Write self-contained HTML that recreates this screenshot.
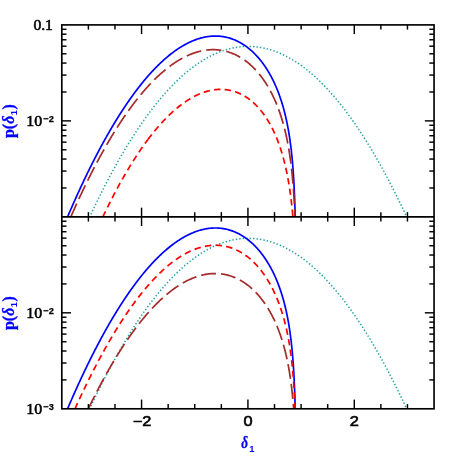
<!DOCTYPE html>
<html><head><meta charset="utf-8"><title>p(delta_l)</title>
<style>html,body{margin:0;padding:0;background:#fff;}body{width:458px;height:458px;overflow:hidden;font-family:"Liberation Sans",sans-serif;}svg{display:block;will-change:transform;-webkit-font-smoothing:antialiased}text{-webkit-font-smoothing:antialiased}</style>
</head><body>
<svg width="458" height="458" viewBox="0 0 458 458">
<rect width="458" height="458" fill="#fff"/>
<clipPath id="c0"><rect x="61.80" y="24.90" width="372.25" height="191.95"/></clipPath>
<g clip-path="url(#c0)" fill="none" stroke-linejoin="round">
<path d="M89.73,216.85 L90.26,215.71 L90.79,214.57 L91.32,213.44 L91.85,212.31 L92.38,211.18 L92.91,210.06 L93.45,208.94 L93.98,207.82 L94.51,206.71 L95.04,205.61 L95.57,204.50 L96.10,203.40 L96.64,202.31 L97.17,201.22 L97.70,200.13 L98.23,199.04 L98.76,197.96 L99.29,196.89 L99.82,195.81 L100.36,194.74 L100.89,193.68 L101.42,192.62 L101.95,191.56 L102.48,190.51 L103.01,189.46 L103.55,188.41 L104.08,187.37 L104.61,186.33 L105.14,185.30 L105.67,184.27 L106.20,183.24 L106.73,182.22 L107.27,181.20 L107.80,180.18 L108.33,179.17 L108.86,178.17 L109.39,177.16 L109.92,176.16 L110.46,175.17 L110.99,174.17 L111.52,173.19 L112.05,172.20 L112.58,171.22 L113.11,170.24 L113.64,169.27 L114.18,168.30 L114.71,167.34 L115.24,166.38 L115.77,165.42 L116.30,164.46 L116.83,163.51 L117.37,162.57 L117.90,161.63 L118.43,160.69 L118.96,159.75 L119.49,158.82 L120.02,157.90 L120.56,156.97 L121.09,156.05 L121.62,155.14 L122.15,154.23 L122.68,153.32 L123.21,152.42 L123.74,151.52 L124.28,150.62 L124.81,149.73 L125.34,148.84 L125.87,147.95 L126.40,147.07 L126.93,146.20 L127.47,145.32 L128.00,144.45 L128.53,143.59 L129.06,142.73 L129.59,141.87 L130.12,141.01 L130.65,140.16 L131.19,139.32 L131.72,138.48 L132.25,137.64 L132.78,136.80 L133.31,135.97 L133.84,135.14 L134.38,134.32 L134.91,133.50 L135.44,132.69 L135.97,131.87 L136.50,131.07 L137.03,130.26 L137.56,129.46 L138.10,128.67 L138.63,127.87 L139.16,127.08 L139.69,126.30 L140.22,125.52 L140.75,124.74 L141.29,123.97 L141.82,123.20 L142.35,122.43 L142.88,121.67 L143.41,120.91 L143.94,120.16 L144.47,119.41 L145.01,118.66 L145.54,117.92 L146.07,117.18 L146.60,116.44 L147.13,115.71 L147.66,114.99 L148.20,114.26 L148.73,113.54 L149.26,112.83 L149.79,112.12 L150.32,111.41 L150.85,110.70 L151.39,110.00 L151.92,109.31 L152.45,108.61 L152.98,107.92 L153.51,107.24 L154.04,106.56 L154.57,105.88 L155.11,105.21 L155.64,104.54 L156.17,103.87 L156.70,103.21 L157.23,102.55 L157.76,101.90 L158.30,101.24 L158.83,100.60 L159.36,99.96 L159.89,99.32 L160.42,98.68 L160.95,98.05 L161.48,97.42 L162.02,96.80 L162.55,96.18 L163.08,95.56 L163.61,94.95 L164.14,94.34 L164.67,93.74 L165.21,93.14 L165.74,92.54 L166.27,91.95 L166.80,91.36 L167.33,90.77 L167.86,90.19 L168.39,89.61 L168.93,89.04 L169.46,88.47 L169.99,87.90 L170.52,87.34 L171.05,86.78 L171.58,86.23 L172.12,85.68 L172.65,85.13 L173.18,84.58 L173.71,84.05 L174.24,83.51 L174.77,82.98 L175.30,82.45 L175.84,81.93 L176.37,81.41 L176.90,80.89 L177.43,80.38 L177.96,79.87 L178.49,79.36 L179.03,78.86 L179.56,78.37 L180.09,77.87 L180.62,77.38 L181.15,76.90 L181.68,76.42 L182.22,75.94 L182.75,75.46 L183.28,74.99 L183.81,74.53 L184.34,74.06 L184.87,73.60 L185.40,73.15 L185.94,72.70 L186.47,72.25 L187.00,71.81 L187.53,71.37 L188.06,70.93 L188.59,70.50 L189.13,70.07 L189.66,69.65 L190.19,69.23 L190.72,68.81 L191.25,68.40 L191.78,67.99 L192.31,67.58 L192.85,67.18 L193.38,66.79 L193.91,66.39 L194.44,66.00 L194.97,65.62 L195.50,65.23 L196.04,64.86 L196.57,64.48 L197.10,64.11 L197.63,63.74 L198.16,63.38 L198.69,63.02 L199.22,62.67 L199.76,62.32 L200.29,61.97 L200.82,61.62 L201.35,61.28 L201.88,60.95 L202.41,60.62 L202.95,60.29 L203.48,59.96 L204.01,59.64 L204.54,59.33 L205.07,59.01 L205.60,58.70 L206.14,58.40 L206.67,58.10 L207.20,57.80 L207.73,57.51 L208.26,57.22 L208.79,56.93 L209.32,56.65 L209.86,56.37 L210.39,56.09 L210.92,55.82 L211.45,55.56 L211.98,55.29 L212.51,55.03 L213.05,54.78 L213.58,54.53 L214.11,54.28 L214.64,54.04 L215.17,53.79 L215.70,53.56 L216.23,53.33 L216.77,53.10 L217.30,52.87 L217.83,52.65 L218.36,52.43 L218.89,52.22 L219.42,52.01 L219.96,51.81 L220.49,51.60 L221.02,51.41 L221.55,51.21 L222.08,51.02 L222.61,50.84 L223.14,50.65 L223.68,50.47 L224.21,50.30 L224.74,50.13 L225.27,49.96 L225.80,49.80 L226.33,49.64 L226.87,49.48 L227.40,49.33 L227.93,49.18 L228.46,49.04 L228.99,48.90 L229.52,48.76 L230.05,48.63 L230.59,48.50 L231.12,48.38 L231.65,48.25 L232.18,48.14 L232.71,48.02 L233.24,47.91 L233.78,47.81 L234.31,47.71 L234.84,47.61 L235.37,47.51 L235.90,47.42 L236.43,47.34 L236.97,47.25 L237.50,47.17 L238.03,47.10 L238.56,47.03 L239.09,46.96 L239.62,46.90 L240.15,46.84 L240.69,46.78 L241.22,46.73 L241.75,46.68 L242.28,46.64 L242.81,46.60 L243.34,46.56 L243.88,46.53 L244.41,46.50 L244.94,46.47 L245.47,46.45 L246.00,46.43 L246.53,46.42 L247.06,46.41 L247.60,46.40 L248.13,46.40 L248.66,46.40 L249.19,46.41 L249.72,46.42 L250.25,46.43 L250.79,46.45 L251.32,46.47 L251.85,46.49 L252.38,46.52 L252.91,46.55 L253.44,46.59 L253.97,46.63 L254.51,46.67 L255.04,46.72 L255.57,46.77 L256.10,46.83 L256.63,46.89 L257.16,46.95 L257.70,47.02 L258.23,47.09 L258.76,47.16 L259.29,47.24 L259.82,47.32 L260.35,47.41 L260.88,47.50 L261.42,47.59 L261.95,47.69 L262.48,47.79 L263.01,47.89 L263.54,48.00 L264.07,48.12 L264.61,48.23 L265.14,48.35 L265.67,48.48 L266.20,48.61 L266.73,48.74 L267.26,48.87 L267.80,49.01 L268.33,49.16 L268.86,49.30 L269.39,49.46 L269.92,49.61 L270.45,49.77 L270.98,49.93 L271.52,50.10 L272.05,50.27 L272.58,50.44 L273.11,50.62 L273.64,50.80 L274.17,50.99 L274.71,51.18 L275.24,51.37 L275.77,51.57 L276.30,51.77 L276.83,51.98 L277.36,52.18 L277.89,52.40 L278.43,52.61 L278.96,52.83 L279.49,53.06 L280.02,53.29 L280.55,53.52 L281.08,53.75 L281.62,53.99 L282.15,54.24 L282.68,54.48 L283.21,54.73 L283.74,54.99 L284.27,55.25 L284.80,55.51 L285.34,55.78 L285.87,56.05 L286.40,56.32 L286.93,56.60 L287.46,56.88 L287.99,57.16 L288.53,57.45 L289.06,57.75 L289.59,58.04 L290.12,58.34 L290.65,58.65 L291.18,58.96 L291.71,59.27 L292.25,59.59 L292.78,59.91 L293.31,60.23 L293.84,60.56 L294.37,60.89 L294.90,61.22 L295.44,61.56 L295.97,61.91 L296.50,62.25 L297.03,62.60 L297.56,62.96 L298.09,63.32 L298.63,63.68 L299.16,64.05 L299.69,64.42 L300.22,64.79 L300.75,65.17 L301.28,65.55 L301.81,65.93 L302.35,66.32 L302.88,66.72 L303.41,67.11 L303.94,67.51 L304.47,67.92 L305.00,68.33 L305.54,68.74 L306.07,69.15 L306.60,69.57 L307.13,70.00 L307.66,70.42 L308.19,70.86 L308.72,71.29 L309.26,71.73 L309.79,72.17 L310.32,72.62 L310.85,73.07 L311.38,73.52 L311.91,73.98 L312.45,74.44 L312.98,74.91 L313.51,75.38 L314.04,75.85 L314.57,76.33 L315.10,76.81 L315.63,77.30 L316.17,77.78 L316.70,78.28 L317.23,78.77 L317.76,79.27 L318.29,79.78 L318.82,80.29 L319.36,80.80 L319.89,81.31 L320.42,81.83 L320.95,82.36 L321.48,82.88 L322.01,83.42 L322.55,83.95 L323.08,84.49 L323.61,85.03 L324.14,85.58 L324.67,86.13 L325.20,86.68 L325.73,87.24 L326.27,87.80 L326.80,88.37 L327.33,88.94 L327.86,89.51 L328.39,90.09 L328.92,90.67 L329.46,91.25 L329.99,91.84 L330.52,92.43 L331.05,93.03 L331.58,93.63 L332.11,94.23 L332.64,94.84 L333.18,95.45 L333.71,96.07 L334.24,96.69 L334.77,97.31 L335.30,97.94 L335.83,98.57 L336.37,99.20 L336.90,99.84 L337.43,100.48 L337.96,101.13 L338.49,101.78 L339.02,102.43 L339.55,103.09 L340.09,103.75 L340.62,104.42 L341.15,105.09 L341.68,105.76 L342.21,106.44 L342.74,107.12 L343.28,107.80 L343.81,108.49 L344.34,109.18 L344.87,109.88 L345.40,110.58 L345.93,111.28 L346.46,111.99 L347.00,112.70 L347.53,113.42 L348.06,114.13 L348.59,114.86 L349.12,115.58 L349.65,116.31 L350.19,117.05 L350.72,117.79 L351.25,118.53 L351.78,119.27 L352.31,120.02 L352.84,120.78 L353.38,121.54 L353.91,122.30 L354.44,123.06 L354.97,123.83 L355.50,124.60 L356.03,125.38 L356.56,126.16 L357.10,126.94 L357.63,127.73 L358.16,128.52 L358.69,129.32 L359.22,130.12 L359.75,130.92 L360.29,131.73 L360.82,132.54 L361.35,133.36 L361.88,134.18 L362.41,135.00 L362.94,135.82 L363.47,136.65 L364.01,137.49 L364.54,138.33 L365.07,139.17 L365.60,140.01 L366.13,140.86 L366.66,141.72 L367.20,142.57 L367.73,143.43 L368.26,144.30 L368.79,145.17 L369.32,146.04 L369.85,146.92 L370.38,147.80 L370.92,148.68 L371.45,149.57 L371.98,150.46 L372.51,151.36 L373.04,152.26 L373.57,153.16 L374.11,154.07 L374.64,154.98 L375.17,155.89 L375.70,156.81 L376.23,157.73 L376.76,158.66 L377.29,159.59 L377.83,160.52 L378.36,161.46 L378.89,162.40 L379.42,163.35 L379.95,164.30 L380.48,165.25 L381.02,166.21 L381.55,167.17 L382.08,168.13 L382.61,169.10 L383.14,170.07 L383.67,171.05 L384.21,172.03 L384.74,173.01 L385.27,174.00 L385.80,174.99 L386.33,175.98 L386.86,176.98 L387.39,177.99 L387.93,178.99 L388.46,180.00 L388.99,181.02 L389.52,182.04 L390.05,183.06 L390.58,184.08 L391.12,185.11 L391.65,186.15 L392.18,187.19 L392.71,188.23 L393.24,189.27 L393.77,190.32 L394.30,191.37 L394.84,192.43 L395.37,193.49 L395.90,194.56 L396.43,195.62 L396.96,196.70 L397.49,197.77 L398.03,198.85 L398.56,199.93 L399.09,201.02 L399.62,202.11 L400.15,203.21 L400.68,204.31 L401.21,205.41 L401.75,206.52 L402.28,207.63 L402.81,208.74 L403.34,209.86 L403.87,210.98 L404.40,212.11 L404.94,213.23 L405.47,214.37 L406.00,215.51 L406.53,216.65 L407.06,217.79 L407.59,218.94 L408.12,220.09" stroke="#20a0a0" stroke-width="1.5" stroke-dasharray="1.4 2.06" stroke-dashoffset="0.7" stroke-linecap="butt"/>
<path d="M67.57,216.85 L67.89,216.12 L68.20,215.38 L68.51,214.65 L68.83,213.91 L69.15,213.18 L69.46,212.45 L69.78,211.71 L70.10,210.98 L70.41,210.25 L70.73,209.51 L71.05,208.78 L71.37,208.05 L71.69,207.32 L72.01,206.58 L72.33,205.85 L72.65,205.12 L72.98,204.39 L73.30,203.66 L73.62,202.93 L73.95,202.20 L74.27,201.47 L74.60,200.74 L74.92,200.01 L75.25,199.28 L75.57,198.55 L75.90,197.82 L76.23,197.09 L76.56,196.37 L76.89,195.64 L77.22,194.91 L77.55,194.18 L77.88,193.46 L78.21,192.73 L78.54,192.00 L78.88,191.28 L79.21,190.55 L79.54,189.83 L79.88,189.10 L80.21,188.38 L80.55,187.65 L80.89,186.93 L81.22,186.20 L81.56,185.48 L81.90,184.75 L82.24,184.03 L82.58,183.31 L82.92,182.59 L83.26,181.86 L83.60,181.14 L83.94,180.42 L84.29,179.70 L84.63,178.98 L84.97,178.26 L85.32,177.53 L85.67,176.81 L86.01,176.09 L86.36,175.38 L86.71,174.66 L87.06,173.94 L87.40,173.22 L87.75,172.50 L88.11,171.78 L88.46,171.07 L88.81,170.35 L89.16,169.63 L89.52,168.92 L89.87,168.20 L90.22,167.48 L90.58,166.77 L90.94,166.05 L91.29,165.34 L91.65,164.62 L92.01,163.91 L92.37,163.20 L92.73,162.48 L93.09,161.77 L93.45,161.06 L93.82,160.35 L94.18,159.64 L94.54,158.93 L94.91,158.22 L95.27,157.50 L95.64,156.80 L96.01,156.09 L96.38,155.38 L96.75,154.67 L97.12,153.96 L97.49,153.25 L97.86,152.55 L98.23,151.84 L98.60,151.13 L98.98,150.43 L99.35,149.72 L99.73,149.02 L100.11,148.31 L100.48,147.61 L100.86,146.90 L101.24,146.20 L101.62,145.50 L102.00,144.80 L102.38,144.09 L102.77,143.39 L103.15,142.69 L103.54,141.99 L103.92,141.29 L104.31,140.59 L104.70,139.90 L105.08,139.20 L105.47,138.50 L105.86,137.80 L106.26,137.11 L106.65,136.41 L107.04,135.72 L107.44,135.02 L107.83,134.33 L108.23,133.63 L108.63,132.94 L109.02,132.25 L109.42,131.56 L109.82,130.87 L110.23,130.17 L110.63,129.48 L111.03,128.80 L111.44,128.11 L111.84,127.42 L112.25,126.73 L112.66,126.04 L113.07,125.36 L113.48,124.67 L113.89,123.99 L114.30,123.30 L114.71,122.62 L115.13,121.94 L115.54,121.25 L115.96,120.57 L116.38,119.89 L116.80,119.21 L117.22,118.53 L117.64,117.85 L118.06,117.18 L118.49,116.50 L118.91,115.82 L119.34,115.15 L119.77,114.47 L120.20,113.80 L120.63,113.13 L121.06,112.45 L121.49,111.78 L121.92,111.11 L122.36,110.44 L122.80,109.77 L123.23,109.10 L123.67,108.44 L124.11,107.77 L124.56,107.11 L125.00,106.44 L125.44,105.78 L125.89,105.11 L126.34,104.45 L126.79,103.79 L127.24,103.13 L127.69,102.47 L128.14,101.82 L128.60,101.16 L129.05,100.50 L129.51,99.85 L129.97,99.19 L130.43,98.54 L130.89,97.89 L131.36,97.24 L131.82,96.59 L132.29,95.94 L132.76,95.29 L133.23,94.65 L133.70,94.00 L134.17,93.36 L134.65,92.72 L135.12,92.08 L135.60,91.44 L136.08,90.80 L136.56,90.16 L137.04,89.52 L137.53,88.89 L138.02,88.26 L138.50,87.62 L138.99,86.99 L139.49,86.36 L139.98,85.74 L140.48,85.11 L140.97,84.48 L141.47,83.86 L141.97,83.24 L142.48,82.62 L142.98,82.00 L143.49,81.38 L144.00,80.77 L144.51,80.15 L145.02,79.54 L145.54,78.93 L146.05,78.32 L146.57,77.71 L147.09,77.11 L147.62,76.50 L148.14,75.90 L148.67,75.30 L149.20,74.70 L149.73,74.11 L150.27,73.51 L150.80,72.92 L151.34,72.33 L151.88,71.74 L152.42,71.16 L152.97,70.57 L153.52,69.99 L154.07,69.41 L154.62,68.83 L155.17,68.26 L155.73,67.69 L156.29,67.12 L156.85,66.55 L157.42,65.98 L157.98,65.42 L158.55,64.86 L159.12,64.30 L159.70,63.75 L160.28,63.19 L160.86,62.65 L161.44,62.10 L162.02,61.55 L162.61,61.01 L163.20,60.48 L163.80,59.94 L164.39,59.41 L164.99,58.88 L165.59,58.36 L166.20,57.84 L166.81,57.32 L167.42,56.80 L168.03,56.29 L168.65,55.78 L169.27,55.28 L169.89,54.78 L170.52,54.28 L171.15,53.79 L171.78,53.30 L172.41,52.82 L173.05,52.34 L173.69,51.86 L174.34,51.39 L174.99,50.92 L175.64,50.46 L176.29,50.00 L176.95,49.55 L177.61,49.10 L178.28,48.66 L178.95,48.22 L179.62,47.79 L180.29,47.36 L180.97,46.94 L181.65,46.52 L182.34,46.11 L183.03,45.71 L183.72,45.31 L184.41,44.92 L185.11,44.53 L185.82,44.15 L186.52,43.77 L187.23,43.41 L187.94,43.05 L188.66,42.69 L189.38,42.35 L190.10,42.01 L190.83,41.68 L191.56,41.35 L192.30,41.04 L193.03,40.73 L193.77,40.43 L194.52,40.14 L195.26,39.86 L196.01,39.58 L196.77,39.32 L197.52,39.06 L198.28,38.81 L199.05,38.57 L199.81,38.35 L200.58,38.13 L201.35,37.92 L202.12,37.72 L202.90,37.53 L203.68,37.35 L204.46,37.19 L205.24,37.03 L206.03,36.88 L206.82,36.75 L207.61,36.63 L208.40,36.51 L209.19,36.41 L209.98,36.32 L210.78,36.25 L211.57,36.18 L212.37,36.13 L213.17,36.09 L213.97,36.06 L214.77,36.05 L215.57,36.04 L216.36,36.05 L217.16,36.07 L217.96,36.11 L218.76,36.16 L219.56,36.22 L220.35,36.29 L221.14,36.38 L221.94,36.48 L222.73,36.59 L223.52,36.71 L224.30,36.85 L225.09,37.00 L225.87,37.17 L226.65,37.34 L227.43,37.53 L228.20,37.73 L228.97,37.94 L229.74,38.17 L230.50,38.41 L231.26,38.66 L232.01,38.92 L232.76,39.19 L233.51,39.48 L234.25,39.77 L234.99,40.08 L235.72,40.40 L236.45,40.73 L237.17,41.07 L237.89,41.42 L238.60,41.78 L239.31,42.15 L240.01,42.54 L240.71,42.93 L241.40,43.33 L242.08,43.74 L242.76,44.16 L243.44,44.59 L244.10,45.03 L244.77,45.47 L245.42,45.93 L246.07,46.39 L246.72,46.86 L247.36,47.34 L247.99,47.83 L248.62,48.33 L249.24,48.83 L249.85,49.34 L250.46,49.86 L251.06,50.38 L251.66,50.91 L252.25,51.45 L252.84,51.99 L253.42,52.54 L253.99,53.10 L254.56,53.66 L255.12,54.23 L255.67,54.80 L256.22,55.38 L256.77,55.97 L257.31,56.56 L257.84,57.15 L258.37,57.75 L258.89,58.36 L259.40,58.97 L259.91,59.58 L260.42,60.20 L260.92,60.83 L261.41,61.46 L261.90,62.09 L262.38,62.73 L262.86,63.37 L263.33,64.01 L263.79,64.66 L264.26,65.31 L264.71,65.97 L265.16,66.63 L265.61,67.29 L266.05,67.96 L266.48,68.63 L266.91,69.30 L267.34,69.98 L267.76,70.66 L268.17,71.34 L268.58,72.02 L268.99,72.71 L269.39,73.40 L269.78,74.10 L270.18,74.80 L270.56,75.49 L270.94,76.20 L271.32,76.90 L271.69,77.61 L272.06,78.32 L272.42,79.03 L272.78,79.74 L273.14,80.46 L273.49,81.18 L273.83,81.90 L274.17,82.62 L274.51,83.34 L274.84,84.07 L275.17,84.80 L275.50,85.53 L275.82,86.26 L276.13,86.99 L276.45,87.73 L276.75,88.46 L277.06,89.20 L277.36,89.94 L277.65,90.69 L277.95,91.43 L278.23,92.17 L278.52,92.92 L278.80,93.67 L279.08,94.42 L279.35,95.17 L279.62,95.92 L279.89,96.67 L280.15,97.43 L280.41,98.18 L280.66,98.94 L280.91,99.70 L281.16,100.46 L281.41,101.22 L281.65,101.98 L281.89,102.74 L282.12,103.51 L282.35,104.27 L282.58,105.04 L282.81,105.80 L283.03,106.57 L283.25,107.34 L283.46,108.11 L283.67,108.88 L283.88,109.65 L284.09,110.42 L284.29,111.19 L284.49,111.97 L284.69,112.74 L284.88,113.52 L285.08,114.29 L285.26,115.07 L285.45,115.85 L285.63,116.62 L285.81,117.40 L285.99,118.18 L286.17,118.96 L286.34,119.74 L286.51,120.52 L286.68,121.30 L286.84,122.08 L287.00,122.87 L287.16,123.65 L287.32,124.43 L287.47,125.22 L287.62,126.00 L287.77,126.78 L287.92,127.57 L288.07,128.36 L288.21,129.14 L288.35,129.93 L288.49,130.71 L288.62,131.50 L288.76,132.29 L288.89,133.08 L289.02,133.87 L289.15,134.65 L289.27,135.44 L289.39,136.23 L289.52,137.02 L289.64,137.81 L289.75,138.60 L289.87,139.39 L289.98,140.18 L290.09,140.97 L290.20,141.77 L290.31,142.56 L290.42,143.35 L290.52,144.14 L290.62,144.93 L290.72,145.73 L290.82,146.52 L290.92,147.31 L291.02,148.10 L291.11,148.90 L291.20,149.69 L291.30,150.48 L291.38,151.28 L291.47,152.07 L291.56,152.87 L291.64,153.66 L291.73,154.46 L291.81,155.25 L291.89,156.04 L291.97,156.84 L292.05,157.63 L292.12,158.43 L292.20,159.23 L292.27,160.02 L292.35,160.82 L292.42,161.61 L292.49,162.41 L292.56,163.20 L292.62,164.00 L292.69,164.80 L292.75,165.59 L292.82,166.39 L292.88,167.18 L292.94,167.98 L293.00,168.78 L293.06,169.57 L293.12,170.37 L293.18,171.17 L293.24,171.96 L293.29,172.76 L293.35,173.56 L293.40,174.36 L293.45,175.15 L293.50,175.95 L293.55,176.75 L293.60,177.54 L293.65,178.34 L293.70,179.14 L293.75,179.94 L293.79,180.73 L293.84,181.53 L293.88,182.33 L293.93,183.13 L293.97,183.93 L294.01,184.72 L294.05,185.52 L294.09,186.32 L294.13,187.12 L294.17,187.91 L294.21,188.71 L294.25,189.51 L294.29,190.31 L294.32,191.11 L294.36,191.90 L294.39,192.70 L294.43,193.50 L294.46,194.30 L294.49,195.10 L294.53,195.90 L294.56,196.69 L294.59,197.49 L294.62,198.29 L294.65,199.09 L294.68,199.89 L294.71,200.68 L294.74,201.48 L294.77,202.28 L294.79,203.08 L294.82,203.88 L294.85,204.68 L294.87,205.48 L294.90,206.27 L294.92,207.07 L294.95,207.87 L294.97,208.67 L294.99,209.47 L295.02,210.27 L295.04,211.06 L295.06,211.86 L295.08,212.66 L295.10,213.46 L295.13,214.26 L295.15,215.06 L295.17,215.86 L295.19,216.65 L295.20,217.45 L295.21,218.25 L295.23,219.05 L295.24,219.85" stroke="#0000ff" stroke-width="1.7"/>
<path d="M70.84,216.85 L71.16,216.12 L71.48,215.39 L71.80,214.65 L72.13,213.92 L72.45,213.19 L72.77,212.46 L73.10,211.73 L73.42,211.00 L73.75,210.27 L74.07,209.54 L74.40,208.81 L74.72,208.08 L75.05,207.35 L75.38,206.62 L75.71,205.89 L76.04,205.16 L76.37,204.44 L76.70,203.71 L77.03,202.98 L77.36,202.25 L77.70,201.53 L78.03,200.80 L78.36,200.07 L78.70,199.35 L79.03,198.62 L79.37,197.90 L79.71,197.17 L80.04,196.45 L80.38,195.72 L80.72,195.00 L81.06,194.27 L81.40,193.55 L81.74,192.83 L82.08,192.11 L82.42,191.38 L82.77,190.66 L83.11,189.94 L83.45,189.22 L83.80,188.50 L84.15,187.78 L84.49,187.06 L84.84,186.34 L85.19,185.62 L85.54,184.90 L85.89,184.18 L86.24,183.46 L86.59,182.74 L86.94,182.02 L87.29,181.30 L87.64,180.59 L88.00,179.87 L88.35,179.15 L88.71,178.44 L89.06,177.72 L89.42,177.01 L89.78,176.29 L90.14,175.58 L90.50,174.86 L90.86,174.15 L91.22,173.44 L91.58,172.73 L91.94,172.01 L92.31,171.30 L92.67,170.59 L93.04,169.88 L93.40,169.17 L93.77,168.46 L94.14,167.75 L94.51,167.04 L94.87,166.33 L95.25,165.62 L95.62,164.91 L95.99,164.21 L96.36,163.50 L96.74,162.79 L97.11,162.09 L97.49,161.38 L97.86,160.67 L98.24,159.97 L98.62,159.27 L99.00,158.56 L99.38,157.86 L99.76,157.16 L100.14,156.45 L100.52,155.75 L100.91,155.05 L101.29,154.35 L101.68,153.65 L102.07,152.95 L102.45,152.25 L102.84,151.55 L103.23,150.86 L103.62,150.16 L104.02,149.46 L104.41,148.77 L104.80,148.07 L105.20,147.38 L105.59,146.68 L105.99,145.99 L106.39,145.29 L106.79,144.60 L107.19,143.91 L107.59,143.22 L107.99,142.53 L108.40,141.84 L108.80,141.15 L109.21,140.46 L109.61,139.77 L110.02,139.08 L110.43,138.40 L110.84,137.71 L111.25,137.03 L111.66,136.34 L112.08,135.66 L112.49,134.97 L112.91,134.29 L113.33,133.61 L113.74,132.93 L114.16,132.25 L114.59,131.57 L115.01,130.89 L115.43,130.21 L115.86,129.53 L116.28,128.86 L116.71,128.18 L117.14,127.51 L117.57,126.83 L118.00,126.16 L118.43,125.49 L118.86,124.82 L119.30,124.14 L119.73,123.47 L120.17,122.81 L120.61,122.14 L121.05,121.47 L121.49,120.80 L121.94,120.14 L122.38,119.47 L122.83,118.81 L123.27,118.15 L123.72,117.49 L124.17,116.83 L124.63,116.17 L125.08,115.51 L125.53,114.85 L125.99,114.20 L126.45,113.54 L126.91,112.89 L127.37,112.23 L127.83,111.58 L128.29,110.93 L128.76,110.28 L129.23,109.63 L129.70,108.98 L130.17,108.34 L130.64,107.69 L131.11,107.05 L131.59,106.41 L132.06,105.76 L132.54,105.12 L133.02,104.48 L133.51,103.85 L133.99,103.21 L134.47,102.58 L134.96,101.94 L135.45,101.31 L135.94,100.68 L136.44,100.05 L136.93,99.42 L137.43,98.80 L137.93,98.17 L138.43,97.55 L138.93,96.92 L139.43,96.30 L139.94,95.69 L140.45,95.07 L140.96,94.45 L141.47,93.84 L141.98,93.23 L142.50,92.62 L143.02,92.01 L143.54,91.40 L144.06,90.80 L144.58,90.19 L145.11,89.59 L145.64,88.99 L146.17,88.39 L146.70,87.80 L147.24,87.20 L147.78,86.61 L148.32,86.02 L148.86,85.44 L149.40,84.85 L149.95,84.27 L150.50,83.69 L151.05,83.11 L151.60,82.53 L152.16,81.96 L152.72,81.39 L153.28,80.82 L153.84,80.25 L154.41,79.69 L154.98,79.12 L155.55,78.57 L156.12,78.01 L156.70,77.45 L157.28,76.90 L157.86,76.36 L158.45,75.81 L159.03,75.27 L159.62,74.73 L160.22,74.19 L160.81,73.66 L161.41,73.13 L162.01,72.60 L162.62,72.08 L163.22,71.56 L163.83,71.04 L164.45,70.53 L165.06,70.02 L165.68,69.51 L166.30,69.01 L166.93,68.51 L167.55,68.02 L168.18,67.53 L168.82,67.04 L169.46,66.56 L170.10,66.08 L170.74,65.60 L171.39,65.13 L172.04,64.67 L172.69,64.21 L173.35,63.75 L174.01,63.30 L174.67,62.85 L175.34,62.41 L176.01,61.97 L176.68,61.54 L177.35,61.12 L178.03,60.70 L178.72,60.28 L179.40,59.87 L180.09,59.47 L180.79,59.07 L181.48,58.68 L182.18,58.29 L182.89,57.91 L183.60,57.54 L184.31,57.18 L185.02,56.82 L185.74,56.46 L186.46,56.12 L187.18,55.78 L187.91,55.45 L188.64,55.12 L189.38,54.81 L190.11,54.50 L190.85,54.20 L191.60,53.91 L192.35,53.62 L193.10,53.35 L193.85,53.08 L194.61,52.82 L195.37,52.57 L196.13,52.33 L196.89,52.10 L197.66,51.88 L198.43,51.67 L199.21,51.47 L199.98,51.27 L200.76,51.09 L201.54,50.92 L202.32,50.76 L203.11,50.61 L203.90,50.47 L204.68,50.34 L205.47,50.22 L206.27,50.11 L207.06,50.02 L207.86,49.93 L208.65,49.86 L209.45,49.80 L210.25,49.75 L211.04,49.71 L211.84,49.69 L212.64,49.68 L213.44,49.67 L214.24,49.69 L215.04,49.71 L215.84,49.75 L216.64,49.79 L217.43,49.85 L218.23,49.93 L219.03,50.01 L219.82,50.11 L220.61,50.22 L221.40,50.34 L222.19,50.48 L222.97,50.63 L223.76,50.79 L224.54,50.96 L225.32,51.14 L226.09,51.34 L226.86,51.55 L227.63,51.77 L228.40,52.00 L229.16,52.25 L229.91,52.50 L230.67,52.77 L231.42,53.05 L232.16,53.34 L232.90,53.64 L233.64,53.95 L234.37,54.27 L235.10,54.60 L235.82,54.95 L236.54,55.30 L237.25,55.66 L237.96,56.04 L238.66,56.42 L239.35,56.81 L240.04,57.21 L240.73,57.62 L241.41,58.04 L242.08,58.47 L242.75,58.91 L243.42,59.36 L244.07,59.81 L244.73,60.27 L245.37,60.74 L246.01,61.22 L246.65,61.71 L247.28,62.20 L247.90,62.70 L248.52,63.21 L249.13,63.72 L249.74,64.25 L250.34,64.77 L250.93,65.31 L251.52,65.85 L252.10,66.40 L252.68,66.95 L253.25,67.51 L253.81,68.08 L254.37,68.65 L254.93,69.22 L255.48,69.80 L256.02,70.39 L256.55,70.98 L257.09,71.58 L257.61,72.18 L258.13,72.79 L258.65,73.40 L259.16,74.02 L259.66,74.64 L260.16,75.26 L260.65,75.89 L261.14,76.53 L261.62,77.16 L262.10,77.81 L262.57,78.45 L263.04,79.10 L263.50,79.75 L263.95,80.41 L264.40,81.07 L264.85,81.73 L265.29,82.40 L265.73,83.07 L266.16,83.74 L266.59,84.42 L267.01,85.10 L267.42,85.78 L267.83,86.47 L268.24,87.15 L268.64,87.85 L269.04,88.54 L269.43,89.24 L269.82,89.93 L270.21,90.64 L270.58,91.34 L270.96,92.05 L271.33,92.75 L271.69,93.47 L272.06,94.18 L272.41,94.89 L272.76,95.61 L273.11,96.33 L273.46,97.05 L273.80,97.78 L274.13,98.50 L274.46,99.23 L274.79,99.96 L275.11,100.69 L275.43,101.42 L275.75,102.16 L276.06,102.89 L276.37,103.63 L276.67,104.37 L276.97,105.11 L277.27,105.85 L277.56,106.60 L277.85,107.34 L278.13,108.09 L278.41,108.84 L278.69,109.59 L278.96,110.34 L279.24,111.09 L279.50,111.85 L279.76,112.60 L280.02,113.36 L280.28,114.11 L280.53,114.87 L280.78,115.63 L281.03,116.39 L281.27,117.15 L281.51,117.92 L281.75,118.68 L281.98,119.44 L282.21,120.21 L282.44,120.98 L282.66,121.74 L282.88,122.51 L283.10,123.28 L283.31,124.05 L283.53,124.82 L283.74,125.59 L283.94,126.37 L284.14,127.14 L284.34,127.91 L284.54,128.69 L284.74,129.46 L284.93,130.24 L285.12,131.02 L285.30,131.79 L285.49,132.57 L285.67,133.35 L285.85,134.13 L286.02,134.91 L286.19,135.69 L286.37,136.47 L286.53,137.25 L286.70,138.03 L286.86,138.82 L287.02,139.60 L287.18,140.38 L287.34,141.17 L287.49,141.95 L287.64,142.74 L287.79,143.52 L287.94,144.31 L288.09,145.09 L288.23,145.88 L288.37,146.67 L288.51,147.45 L288.64,148.24 L288.78,149.03 L288.91,149.82 L289.04,150.61 L289.17,151.40 L289.30,152.19 L289.42,152.98 L289.54,153.77 L289.66,154.56 L289.78,155.35 L289.90,156.14 L290.01,156.93 L290.13,157.72 L290.24,158.51 L290.35,159.30 L290.46,160.09 L290.56,160.89 L290.67,161.68 L290.77,162.47 L290.87,163.27 L290.97,164.06 L291.07,164.85 L291.17,165.65 L291.26,166.44 L291.35,167.23 L291.45,168.03 L291.54,168.82 L291.63,169.62 L291.71,170.41 L291.80,171.21 L291.89,172.00 L291.97,172.79 L292.05,173.59 L292.13,174.39 L292.21,175.18 L292.29,175.98 L292.37,176.77 L292.44,177.57 L292.52,178.36 L292.59,179.16 L292.66,179.96 L292.73,180.75 L292.80,181.55 L292.87,182.34 L292.94,183.14 L293.01,183.94 L293.07,184.73 L293.14,185.53 L293.20,186.33 L293.26,187.13 L293.32,187.92 L293.38,188.72 L293.44,189.52 L293.50,190.31 L293.56,191.11 L293.61,191.91 L293.67,192.71 L293.72,193.50 L293.77,194.30 L293.83,195.10 L293.88,195.90 L293.93,196.69 L293.98,197.49 L294.03,198.29 L294.08,199.09 L294.12,199.89 L294.17,200.68 L294.22,201.48 L294.26,202.28 L294.31,203.08 L294.35,203.88 L294.39,204.68 L294.43,205.47 L294.48,206.27 L294.52,207.07 L294.56,207.87 L294.59,208.67 L294.63,209.47 L294.67,210.26 L294.71,211.06 L294.75,211.86 L294.78,212.66 L294.82,213.46 L294.85,214.26 L294.89,215.06 L294.92,215.85 L294.95,216.65 L294.97,217.45 L294.98,218.25 L295.00,219.05 L295.01,219.85" stroke="#a52a2a" stroke-width="1.7" stroke-dasharray="15.2 5.06" stroke-dashoffset="0.7"/>
<path d="M102.86,216.85 L103.20,216.13 L103.54,215.41 L103.89,214.69 L104.24,213.97 L104.58,213.25 L104.93,212.53 L105.28,211.81 L105.63,211.09 L105.98,210.37 L106.33,209.65 L106.68,208.94 L107.03,208.22 L107.39,207.50 L107.74,206.79 L108.10,206.07 L108.45,205.35 L108.81,204.64 L109.17,203.93 L109.53,203.21 L109.89,202.50 L110.25,201.78 L110.61,201.07 L110.97,200.36 L111.33,199.65 L111.70,198.94 L112.06,198.23 L112.43,197.52 L112.80,196.81 L113.17,196.10 L113.53,195.39 L113.90,194.68 L114.27,193.97 L114.65,193.26 L115.02,192.56 L115.39,191.85 L115.77,191.15 L116.14,190.44 L116.52,189.74 L116.90,189.03 L117.28,188.33 L117.66,187.62 L118.04,186.92 L118.42,186.22 L118.80,185.52 L119.19,184.82 L119.57,184.12 L119.96,183.42 L120.35,182.72 L120.73,182.02 L121.12,181.32 L121.51,180.63 L121.91,179.93 L122.30,179.23 L122.69,178.54 L123.09,177.84 L123.48,177.15 L123.88,176.46 L124.28,175.76 L124.68,175.07 L125.08,174.38 L125.48,173.69 L125.89,173.00 L126.29,172.31 L126.70,171.62 L127.10,170.94 L127.51,170.25 L127.92,169.56 L128.33,168.88 L128.75,168.19 L129.16,167.51 L129.57,166.83 L129.99,166.14 L130.41,165.46 L130.83,164.78 L131.25,164.10 L131.67,163.42 L132.09,162.74 L132.51,162.07 L132.94,161.39 L133.37,160.71 L133.79,160.04 L134.22,159.37 L134.65,158.69 L135.09,158.02 L135.52,157.35 L135.96,156.68 L136.39,156.01 L136.83,155.34 L137.27,154.68 L137.71,154.01 L138.16,153.34 L138.60,152.68 L139.05,152.02 L139.49,151.36 L139.94,150.69 L140.39,150.03 L140.85,149.38 L141.30,148.72 L141.76,148.06 L142.21,147.41 L142.67,146.75 L143.13,146.10 L143.60,145.45 L144.06,144.80 L144.53,144.15 L145.00,143.50 L145.47,142.85 L145.94,142.21 L146.41,141.57 L146.88,140.92 L147.36,140.28 L147.84,139.64 L147.90,139.56" stroke="#ff0000" stroke-width="1.7" stroke-dasharray="6.4 4.2" stroke-dashoffset="0.2"/>
<path d="M147.90,139.56 L148.32,139.00 L148.80,138.37 L149.29,137.73 L149.77,137.10 L150.26,136.46 L150.75,135.83 L151.25,135.20 L151.74,134.58 L152.24,133.95 L152.74,133.33 L153.24,132.70 L153.74,132.08 L154.24,131.46 L154.75,130.84 L155.26,130.23 L155.77,129.61 L156.28,129.00 L156.80,128.39 L157.32,127.78 L157.84,127.18 L158.36,126.57 L158.89,125.97 L159.41,125.37 L159.94,124.77 L160.47,124.17 L161.01,123.58 L161.55,122.99 L162.09,122.40 L162.63,121.81 L163.17,121.23 L163.72,120.64 L164.27,120.06 L164.82,119.49 L165.38,118.91 L165.93,118.34 L166.49,117.77 L167.06,117.20 L167.62,116.64 L168.19,116.08 L168.76,115.52 L169.34,114.96 L169.91,114.41 L170.49,113.86 L171.08,113.31 L171.66,112.77 L172.25,112.23 L172.84,111.69 L173.44,111.16 L174.04,110.63 L174.64,110.10 L175.24,109.58 L175.85,109.06 L176.46,108.54 L177.07,108.03 L177.69,107.52 L178.31,107.02 L178.93,106.52 L179.56,106.03 L180.19,105.54 L180.83,105.05 L181.46,104.57 L182.10,104.09 L182.75,103.62 L183.40,103.15 L184.05,102.69 L184.70,102.23 L185.36,101.78 L186.02,101.33 L186.69,100.89 L187.36,100.45 L188.03,100.02 L188.71,99.60 L189.39,99.18 L190.07,98.77 L190.76,98.36 L191.46,97.96 L192.15,97.57 L192.85,97.18 L193.55,96.80 L194.26,96.43 L194.97,96.06 L195.69,95.71 L196.41,95.36 L197.13,95.01 L197.85,94.68 L198.58,94.35 L199.32,94.04 L200.05,93.73 L200.79,93.43 L201.54,93.14 L202.29,92.86 L203.04,92.58 L203.79,92.32 L204.55,92.07 L205.31,91.82 L206.08,91.59 L206.84,91.37 L207.61,91.16 L208.39,90.96 L209.16,90.77 L209.94,90.59 L210.72,90.42 L211.51,90.27 L212.29,90.12 L213.08,89.99 L213.87,89.87 L214.66,89.77 L215.46,89.67 L216.25,89.59 L217.05,89.52 L217.85,89.47 L218.64,89.43 L219.44,89.40 L220.24,89.39 L221.04,89.39 L221.84,89.40 L222.64,89.43 L223.44,89.47 L224.23,89.52 L225.03,89.59 L225.82,89.67 L226.62,89.77 L227.41,89.88 L228.20,90.01 L228.99,90.15 L229.77,90.30 L230.55,90.47 L231.33,90.65 L232.10,90.85 L232.88,91.05 L233.64,91.28 L234.41,91.51 L235.17,91.76 L235.92,92.03 L236.67,92.30 L237.42,92.59 L238.16,92.89 L238.89,93.20 L239.62,93.53 L240.35,93.87 L241.06,94.22 L241.78,94.58 L242.48,94.95 L243.18,95.33 L243.88,95.73 L244.57,96.13 L245.25,96.55 L245.93,96.98 L246.60,97.41 L247.26,97.86 L247.92,98.31 L248.57,98.78 L249.21,99.25 L249.85,99.73 L250.48,100.23 L251.10,100.73 L251.72,101.24 L252.33,101.75 L252.93,102.28 L253.52,102.81 L254.11,103.35 L254.70,103.89 L255.27,104.45 L255.84,105.01 L256.41,105.57 L256.96,106.15 L257.51,106.73 L258.06,107.31 L258.59,107.90 L259.13,108.50 L259.65,109.10 L260.17,109.71 L260.68,110.33 L261.19,110.95 L261.68,111.57 L262.18,112.20 L262.66,112.83 L263.15,113.47 L263.62,114.11 L264.09,114.76 L264.55,115.41 L265.01,116.07 L265.46,116.72 L265.91,117.39 L266.35,118.05 L266.78,118.73 L267.21,119.40 L267.64,120.08 L268.05,120.76 L268.47,121.44 L268.87,122.13 L269.28,122.82 L269.67,123.51 L270.07,124.21 L270.45,124.91 L270.83,125.61 L271.21,126.32 L271.58,127.02 L271.95,127.73 L272.31,128.44 L272.67,129.16 L273.02,129.88 L273.37,130.60 L273.71,131.32 L274.05,132.04 L274.39,132.77 L274.72,133.49 L275.04,134.22 L275.37,134.96 L275.68,135.69 L276.00,136.42 L276.30,137.16 L276.61,137.90 L276.91,138.64 L277.20,139.38 L277.50,140.13 L277.79,140.87 L278.07,141.62 L278.35,142.37 L278.63,143.12 L278.90,143.87 L279.17,144.62 L279.44,145.37 L279.70,146.13 L279.96,146.89 L280.21,147.64 L280.46,148.40 L280.71,149.16 L280.96,149.92 L281.20,150.68 L281.43,151.45 L281.67,152.21 L281.90,152.97 L282.13,153.74 L282.35,154.51 L282.57,155.28 L282.79,156.04 L283.01,156.81 L283.22,157.58 L283.43,158.35 L283.64,159.13 L283.84,159.90 L284.04,160.67 L284.24,161.45 L284.44,162.22 L284.63,163.00 L284.82,163.77 L285.01,164.55 L285.19,165.33 L285.37,166.11 L285.55,166.88 L285.73,167.66 L285.90,168.44 L286.08,169.22 L286.24,170.01 L286.41,170.79 L286.58,171.57 L286.74,172.35 L286.90,173.13 L287.06,173.92 L287.21,174.70 L287.36,175.49 L287.51,176.27 L287.66,177.06 L287.81,177.84 L287.95,178.63 L288.10,179.41 L288.24,180.20 L288.37,180.99 L288.51,181.78 L288.65,182.56 L288.78,183.35 L288.91,184.14 L289.04,184.93 L289.16,185.72 L289.29,186.51 L289.41,187.30 L289.53,188.09 L289.65,188.88 L289.77,189.67 L289.88,190.46 L290.00,191.25 L290.11,192.04 L290.22,192.83 L290.33,193.62 L290.44,194.41 L290.54,195.21 L290.65,196.00 L290.75,196.79 L290.85,197.58 L290.95,198.38 L291.05,199.17 L291.15,199.96 L291.24,200.76 L291.34,201.55 L291.43,202.34 L291.52,203.14 L291.61,203.93 L291.70,204.73 L291.78,205.52 L291.87,206.31 L291.95,207.11 L292.04,207.90 L292.12,208.70 L292.20,209.49 L292.28,210.29 L292.36,211.08 L292.43,211.88 L292.51,212.68 L292.59,213.47 L292.66,214.27 L292.73,215.06 L292.80,215.86 L292.87,216.65 L292.90,217.45 L292.91,218.25 L292.92,219.05 L292.93,219.85" stroke="#ff0000" stroke-width="1.7" stroke-dasharray="6.4 4.2" stroke-dashoffset="0"/>
</g>
<clipPath id="c1"><rect x="61.80" y="216.85" width="372.25" height="191.95"/></clipPath>
<g clip-path="url(#c1)" fill="none" stroke-linejoin="round">
<path d="M89.73,408.80 L90.26,407.66 L90.79,406.52 L91.32,405.39 L91.85,404.26 L92.38,403.13 L92.91,402.01 L93.45,400.89 L93.98,399.77 L94.51,398.66 L95.04,397.56 L95.57,396.45 L96.10,395.35 L96.64,394.26 L97.17,393.17 L97.70,392.08 L98.23,390.99 L98.76,389.91 L99.29,388.84 L99.82,387.76 L100.36,386.69 L100.89,385.63 L101.42,384.57 L101.95,383.51 L102.48,382.46 L103.01,381.41 L103.55,380.36 L104.08,379.32 L104.61,378.28 L105.14,377.25 L105.67,376.22 L106.20,375.19 L106.73,374.17 L107.27,373.15 L107.80,372.13 L108.33,371.12 L108.86,370.12 L109.39,369.11 L109.92,368.11 L110.46,367.12 L110.99,366.12 L111.52,365.14 L112.05,364.15 L112.58,363.17 L113.11,362.19 L113.64,361.22 L114.18,360.25 L114.71,359.29 L115.24,358.33 L115.77,357.37 L116.30,356.41 L116.83,355.46 L117.37,354.52 L117.90,353.58 L118.43,352.64 L118.96,351.70 L119.49,350.77 L120.02,349.85 L120.56,348.92 L121.09,348.00 L121.62,347.09 L122.15,346.18 L122.68,345.27 L123.21,344.37 L123.74,343.47 L124.28,342.57 L124.81,341.68 L125.34,340.79 L125.87,339.90 L126.40,339.02 L126.93,338.15 L127.47,337.27 L128.00,336.40 L128.53,335.54 L129.06,334.68 L129.59,333.82 L130.12,332.96 L130.65,332.11 L131.19,331.27 L131.72,330.43 L132.25,329.59 L132.78,328.75 L133.31,327.92 L133.84,327.09 L134.38,326.27 L134.91,325.45 L135.44,324.64 L135.97,323.82 L136.50,323.02 L137.03,322.21 L137.56,321.41 L138.10,320.62 L138.63,319.82 L139.16,319.03 L139.69,318.25 L140.22,317.47 L140.75,316.69 L141.29,315.92 L141.82,315.15 L142.35,314.38 L142.88,313.62 L143.41,312.86 L143.94,312.11 L144.47,311.36 L145.01,310.61 L145.54,309.87 L146.07,309.13 L146.60,308.39 L147.13,307.66 L147.66,306.94 L148.20,306.21 L148.73,305.49 L149.26,304.78 L149.79,304.07 L150.32,303.36 L150.85,302.65 L151.39,301.95 L151.92,301.26 L152.45,300.56 L152.98,299.87 L153.51,299.19 L154.04,298.51 L154.57,297.83 L155.11,297.16 L155.64,296.49 L156.17,295.82 L156.70,295.16 L157.23,294.50 L157.76,293.85 L158.30,293.19 L158.83,292.55 L159.36,291.91 L159.89,291.27 L160.42,290.63 L160.95,290.00 L161.48,289.37 L162.02,288.75 L162.55,288.13 L163.08,287.51 L163.61,286.90 L164.14,286.29 L164.67,285.69 L165.21,285.09 L165.74,284.49 L166.27,283.90 L166.80,283.31 L167.33,282.72 L167.86,282.14 L168.39,281.56 L168.93,280.99 L169.46,280.42 L169.99,279.85 L170.52,279.29 L171.05,278.73 L171.58,278.18 L172.12,277.63 L172.65,277.08 L173.18,276.53 L173.71,276.00 L174.24,275.46 L174.77,274.93 L175.30,274.40 L175.84,273.88 L176.37,273.36 L176.90,272.84 L177.43,272.33 L177.96,271.82 L178.49,271.31 L179.03,270.81 L179.56,270.32 L180.09,269.82 L180.62,269.33 L181.15,268.85 L181.68,268.37 L182.22,267.89 L182.75,267.41 L183.28,266.94 L183.81,266.48 L184.34,266.01 L184.87,265.55 L185.40,265.10 L185.94,264.65 L186.47,264.20 L187.00,263.76 L187.53,263.32 L188.06,262.88 L188.59,262.45 L189.13,262.02 L189.66,261.60 L190.19,261.18 L190.72,260.76 L191.25,260.35 L191.78,259.94 L192.31,259.53 L192.85,259.13 L193.38,258.74 L193.91,258.34 L194.44,257.95 L194.97,257.57 L195.50,257.18 L196.04,256.81 L196.57,256.43 L197.10,256.06 L197.63,255.69 L198.16,255.33 L198.69,254.97 L199.22,254.62 L199.76,254.27 L200.29,253.92 L200.82,253.57 L201.35,253.23 L201.88,252.90 L202.41,252.57 L202.95,252.24 L203.48,251.91 L204.01,251.59 L204.54,251.28 L205.07,250.96 L205.60,250.65 L206.14,250.35 L206.67,250.05 L207.20,249.75 L207.73,249.46 L208.26,249.17 L208.79,248.88 L209.32,248.60 L209.86,248.32 L210.39,248.04 L210.92,247.77 L211.45,247.51 L211.98,247.24 L212.51,246.98 L213.05,246.73 L213.58,246.48 L214.11,246.23 L214.64,245.99 L215.17,245.74 L215.70,245.51 L216.23,245.28 L216.77,245.05 L217.30,244.82 L217.83,244.60 L218.36,244.38 L218.89,244.17 L219.42,243.96 L219.96,243.76 L220.49,243.55 L221.02,243.36 L221.55,243.16 L222.08,242.97 L222.61,242.79 L223.14,242.60 L223.68,242.42 L224.21,242.25 L224.74,242.08 L225.27,241.91 L225.80,241.75 L226.33,241.59 L226.87,241.43 L227.40,241.28 L227.93,241.13 L228.46,240.99 L228.99,240.85 L229.52,240.71 L230.05,240.58 L230.59,240.45 L231.12,240.33 L231.65,240.20 L232.18,240.09 L232.71,239.97 L233.24,239.86 L233.78,239.76 L234.31,239.66 L234.84,239.56 L235.37,239.46 L235.90,239.37 L236.43,239.29 L236.97,239.20 L237.50,239.12 L238.03,239.05 L238.56,238.98 L239.09,238.91 L239.62,238.85 L240.15,238.79 L240.69,238.73 L241.22,238.68 L241.75,238.63 L242.28,238.59 L242.81,238.55 L243.34,238.51 L243.88,238.48 L244.41,238.45 L244.94,238.42 L245.47,238.40 L246.00,238.38 L246.53,238.37 L247.06,238.36 L247.60,238.35 L248.13,238.35 L248.66,238.35 L249.19,238.36 L249.72,238.37 L250.25,238.38 L250.79,238.40 L251.32,238.42 L251.85,238.44 L252.38,238.47 L252.91,238.50 L253.44,238.54 L253.97,238.58 L254.51,238.62 L255.04,238.67 L255.57,238.72 L256.10,238.78 L256.63,238.84 L257.16,238.90 L257.70,238.97 L258.23,239.04 L258.76,239.11 L259.29,239.19 L259.82,239.27 L260.35,239.36 L260.88,239.45 L261.42,239.54 L261.95,239.64 L262.48,239.74 L263.01,239.84 L263.54,239.95 L264.07,240.07 L264.61,240.18 L265.14,240.30 L265.67,240.43 L266.20,240.56 L266.73,240.69 L267.26,240.82 L267.80,240.96 L268.33,241.11 L268.86,241.25 L269.39,241.41 L269.92,241.56 L270.45,241.72 L270.98,241.88 L271.52,242.05 L272.05,242.22 L272.58,242.39 L273.11,242.57 L273.64,242.75 L274.17,242.94 L274.71,243.13 L275.24,243.32 L275.77,243.52 L276.30,243.72 L276.83,243.93 L277.36,244.13 L277.89,244.35 L278.43,244.56 L278.96,244.78 L279.49,245.01 L280.02,245.24 L280.55,245.47 L281.08,245.70 L281.62,245.94 L282.15,246.19 L282.68,246.43 L283.21,246.68 L283.74,246.94 L284.27,247.20 L284.80,247.46 L285.34,247.73 L285.87,248.00 L286.40,248.27 L286.93,248.55 L287.46,248.83 L287.99,249.11 L288.53,249.40 L289.06,249.70 L289.59,249.99 L290.12,250.29 L290.65,250.60 L291.18,250.91 L291.71,251.22 L292.25,251.54 L292.78,251.86 L293.31,252.18 L293.84,252.51 L294.37,252.84 L294.90,253.17 L295.44,253.51 L295.97,253.86 L296.50,254.20 L297.03,254.55 L297.56,254.91 L298.09,255.27 L298.63,255.63 L299.16,256.00 L299.69,256.37 L300.22,256.74 L300.75,257.12 L301.28,257.50 L301.81,257.88 L302.35,258.27 L302.88,258.67 L303.41,259.06 L303.94,259.46 L304.47,259.87 L305.00,260.28 L305.54,260.69 L306.07,261.10 L306.60,261.52 L307.13,261.95 L307.66,262.37 L308.19,262.81 L308.72,263.24 L309.26,263.68 L309.79,264.12 L310.32,264.57 L310.85,265.02 L311.38,265.47 L311.91,265.93 L312.45,266.39 L312.98,266.86 L313.51,267.33 L314.04,267.80 L314.57,268.28 L315.10,268.76 L315.63,269.25 L316.17,269.73 L316.70,270.23 L317.23,270.72 L317.76,271.22 L318.29,271.73 L318.82,272.24 L319.36,272.75 L319.89,273.26 L320.42,273.78 L320.95,274.31 L321.48,274.83 L322.01,275.37 L322.55,275.90 L323.08,276.44 L323.61,276.98 L324.14,277.53 L324.67,278.08 L325.20,278.63 L325.73,279.19 L326.27,279.75 L326.80,280.32 L327.33,280.89 L327.86,281.46 L328.39,282.04 L328.92,282.62 L329.46,283.20 L329.99,283.79 L330.52,284.38 L331.05,284.98 L331.58,285.58 L332.11,286.18 L332.64,286.79 L333.18,287.40 L333.71,288.02 L334.24,288.64 L334.77,289.26 L335.30,289.89 L335.83,290.52 L336.37,291.15 L336.90,291.79 L337.43,292.43 L337.96,293.08 L338.49,293.73 L339.02,294.38 L339.55,295.04 L340.09,295.70 L340.62,296.37 L341.15,297.04 L341.68,297.71 L342.21,298.39 L342.74,299.07 L343.28,299.75 L343.81,300.44 L344.34,301.13 L344.87,301.83 L345.40,302.53 L345.93,303.23 L346.46,303.94 L347.00,304.65 L347.53,305.37 L348.06,306.08 L348.59,306.81 L349.12,307.53 L349.65,308.26 L350.19,309.00 L350.72,309.74 L351.25,310.48 L351.78,311.22 L352.31,311.97 L352.84,312.73 L353.38,313.49 L353.91,314.25 L354.44,315.01 L354.97,315.78 L355.50,316.55 L356.03,317.33 L356.56,318.11 L357.10,318.89 L357.63,319.68 L358.16,320.47 L358.69,321.27 L359.22,322.07 L359.75,322.87 L360.29,323.68 L360.82,324.49 L361.35,325.31 L361.88,326.13 L362.41,326.95 L362.94,327.77 L363.47,328.60 L364.01,329.44 L364.54,330.28 L365.07,331.12 L365.60,331.96 L366.13,332.81 L366.66,333.67 L367.20,334.52 L367.73,335.38 L368.26,336.25 L368.79,337.12 L369.32,337.99 L369.85,338.87 L370.38,339.75 L370.92,340.63 L371.45,341.52 L371.98,342.41 L372.51,343.31 L373.04,344.21 L373.57,345.11 L374.11,346.02 L374.64,346.93 L375.17,347.84 L375.70,348.76 L376.23,349.68 L376.76,350.61 L377.29,351.54 L377.83,352.47 L378.36,353.41 L378.89,354.35 L379.42,355.30 L379.95,356.25 L380.48,357.20 L381.02,358.16 L381.55,359.12 L382.08,360.08 L382.61,361.05 L383.14,362.02 L383.67,363.00 L384.21,363.98 L384.74,364.96 L385.27,365.95 L385.80,366.94 L386.33,367.93 L386.86,368.93 L387.39,369.94 L387.93,370.94 L388.46,371.95 L388.99,372.97 L389.52,373.99 L390.05,375.01 L390.58,376.03 L391.12,377.06 L391.65,378.10 L392.18,379.14 L392.71,380.18 L393.24,381.22 L393.77,382.27 L394.30,383.32 L394.84,384.38 L395.37,385.44 L395.90,386.51 L396.43,387.57 L396.96,388.65 L397.49,389.72 L398.03,390.80 L398.56,391.88 L399.09,392.97 L399.62,394.06 L400.15,395.16 L400.68,396.26 L401.21,397.36 L401.75,398.47 L402.28,399.58 L402.81,400.69 L403.34,401.81 L403.87,402.93 L404.40,404.06 L404.94,405.18 L405.47,406.32 L406.00,407.46 L406.53,408.60 L407.06,409.74 L407.59,410.89 L408.12,412.04" stroke="#20a0a0" stroke-width="1.5" stroke-dasharray="1.4 2.06" stroke-dashoffset="0.7" stroke-linecap="butt"/>
<path d="M67.57,408.80 L67.89,408.07 L68.20,407.33 L68.51,406.60 L68.83,405.86 L69.15,405.13 L69.46,404.40 L69.78,403.66 L70.10,402.93 L70.41,402.20 L70.73,401.46 L71.05,400.73 L71.37,400.00 L71.69,399.27 L72.01,398.53 L72.33,397.80 L72.65,397.07 L72.98,396.34 L73.30,395.61 L73.62,394.88 L73.95,394.15 L74.27,393.42 L74.60,392.69 L74.92,391.96 L75.25,391.23 L75.57,390.50 L75.90,389.77 L76.23,389.04 L76.56,388.32 L76.89,387.59 L77.22,386.86 L77.55,386.13 L77.88,385.41 L78.21,384.68 L78.54,383.95 L78.88,383.23 L79.21,382.50 L79.54,381.78 L79.88,381.05 L80.21,380.33 L80.55,379.60 L80.89,378.88 L81.22,378.15 L81.56,377.43 L81.90,376.70 L82.24,375.98 L82.58,375.26 L82.92,374.54 L83.26,373.81 L83.60,373.09 L83.94,372.37 L84.29,371.65 L84.63,370.93 L84.97,370.21 L85.32,369.48 L85.67,368.76 L86.01,368.04 L86.36,367.33 L86.71,366.61 L87.06,365.89 L87.40,365.17 L87.75,364.45 L88.11,363.73 L88.46,363.02 L88.81,362.30 L89.16,361.58 L89.52,360.87 L89.87,360.15 L90.22,359.43 L90.58,358.72 L90.94,358.00 L91.29,357.29 L91.65,356.57 L92.01,355.86 L92.37,355.15 L92.73,354.43 L93.09,353.72 L93.45,353.01 L93.82,352.30 L94.18,351.59 L94.54,350.88 L94.91,350.17 L95.27,349.45 L95.64,348.75 L96.01,348.04 L96.38,347.33 L96.75,346.62 L97.12,345.91 L97.49,345.20 L97.86,344.50 L98.23,343.79 L98.60,343.08 L98.98,342.38 L99.35,341.67 L99.73,340.97 L100.11,340.26 L100.48,339.56 L100.86,338.85 L101.24,338.15 L101.62,337.45 L102.00,336.75 L102.38,336.04 L102.77,335.34 L103.15,334.64 L103.54,333.94 L103.92,333.24 L104.31,332.54 L104.70,331.85 L105.08,331.15 L105.47,330.45 L105.86,329.75 L106.26,329.06 L106.65,328.36 L107.04,327.67 L107.44,326.97 L107.83,326.28 L108.23,325.58 L108.63,324.89 L109.02,324.20 L109.42,323.51 L109.82,322.82 L110.23,322.12 L110.63,321.43 L111.03,320.75 L111.44,320.06 L111.84,319.37 L112.25,318.68 L112.66,317.99 L113.07,317.31 L113.48,316.62 L113.89,315.94 L114.30,315.25 L114.71,314.57 L115.13,313.89 L115.54,313.20 L115.96,312.52 L116.38,311.84 L116.80,311.16 L117.22,310.48 L117.64,309.80 L118.06,309.13 L118.49,308.45 L118.91,307.77 L119.34,307.10 L119.77,306.42 L120.20,305.75 L120.63,305.08 L121.06,304.40 L121.49,303.73 L121.92,303.06 L122.36,302.39 L122.80,301.72 L123.23,301.05 L123.67,300.39 L124.11,299.72 L124.56,299.06 L125.00,298.39 L125.44,297.73 L125.89,297.06 L126.34,296.40 L126.79,295.74 L127.24,295.08 L127.69,294.42 L128.14,293.77 L128.60,293.11 L129.05,292.45 L129.51,291.80 L129.97,291.14 L130.43,290.49 L130.89,289.84 L131.36,289.19 L131.82,288.54 L132.29,287.89 L132.76,287.24 L133.23,286.60 L133.70,285.95 L134.17,285.31 L134.65,284.67 L135.12,284.03 L135.60,283.39 L136.08,282.75 L136.56,282.11 L137.04,281.47 L137.53,280.84 L138.02,280.21 L138.50,279.57 L138.99,278.94 L139.49,278.31 L139.98,277.69 L140.48,277.06 L140.97,276.43 L141.47,275.81 L141.97,275.19 L142.48,274.57 L142.98,273.95 L143.49,273.33 L144.00,272.72 L144.51,272.10 L145.02,271.49 L145.54,270.88 L146.05,270.27 L146.57,269.66 L147.09,269.06 L147.62,268.45 L148.14,267.85 L148.67,267.25 L149.20,266.65 L149.73,266.06 L150.27,265.46 L150.80,264.87 L151.34,264.28 L151.88,263.69 L152.42,263.11 L152.97,262.52 L153.52,261.94 L154.07,261.36 L154.62,260.78 L155.17,260.21 L155.73,259.64 L156.29,259.07 L156.85,258.50 L157.42,257.93 L157.98,257.37 L158.55,256.81 L159.12,256.25 L159.70,255.70 L160.28,255.14 L160.86,254.60 L161.44,254.05 L162.02,253.50 L162.61,252.96 L163.20,252.43 L163.80,251.89 L164.39,251.36 L164.99,250.83 L165.59,250.31 L166.20,249.79 L166.81,249.27 L167.42,248.75 L168.03,248.24 L168.65,247.73 L169.27,247.23 L169.89,246.73 L170.52,246.23 L171.15,245.74 L171.78,245.25 L172.41,244.77 L173.05,244.29 L173.69,243.81 L174.34,243.34 L174.99,242.87 L175.64,242.41 L176.29,241.95 L176.95,241.50 L177.61,241.05 L178.28,240.61 L178.95,240.17 L179.62,239.74 L180.29,239.31 L180.97,238.89 L181.65,238.47 L182.34,238.06 L183.03,237.66 L183.72,237.26 L184.41,236.87 L185.11,236.48 L185.82,236.10 L186.52,235.72 L187.23,235.36 L187.94,235.00 L188.66,234.64 L189.38,234.30 L190.10,233.96 L190.83,233.63 L191.56,233.30 L192.30,232.99 L193.03,232.68 L193.77,232.38 L194.52,232.09 L195.26,231.81 L196.01,231.53 L196.77,231.27 L197.52,231.01 L198.28,230.76 L199.05,230.52 L199.81,230.30 L200.58,230.08 L201.35,229.87 L202.12,229.67 L202.90,229.48 L203.68,229.30 L204.46,229.14 L205.24,228.98 L206.03,228.83 L206.82,228.70 L207.61,228.58 L208.40,228.46 L209.19,228.36 L209.98,228.27 L210.78,228.20 L211.57,228.13 L212.37,228.08 L213.17,228.04 L213.97,228.01 L214.77,228.00 L215.57,227.99 L216.36,228.00 L217.16,228.02 L217.96,228.06 L218.76,228.11 L219.56,228.17 L220.35,228.24 L221.14,228.33 L221.94,228.43 L222.73,228.54 L223.52,228.66 L224.30,228.80 L225.09,228.95 L225.87,229.12 L226.65,229.29 L227.43,229.48 L228.20,229.68 L228.97,229.89 L229.74,230.12 L230.50,230.36 L231.26,230.61 L232.01,230.87 L232.76,231.14 L233.51,231.43 L234.25,231.72 L234.99,232.03 L235.72,232.35 L236.45,232.68 L237.17,233.02 L237.89,233.37 L238.60,233.73 L239.31,234.10 L240.01,234.49 L240.71,234.88 L241.40,235.28 L242.08,235.69 L242.76,236.11 L243.44,236.54 L244.10,236.98 L244.77,237.42 L245.42,237.88 L246.07,238.34 L246.72,238.81 L247.36,239.29 L247.99,239.78 L248.62,240.28 L249.24,240.78 L249.85,241.29 L250.46,241.81 L251.06,242.33 L251.66,242.86 L252.25,243.40 L252.84,243.94 L253.42,244.49 L253.99,245.05 L254.56,245.61 L255.12,246.18 L255.67,246.75 L256.22,247.33 L256.77,247.92 L257.31,248.51 L257.84,249.10 L258.37,249.70 L258.89,250.31 L259.40,250.92 L259.91,251.53 L260.42,252.15 L260.92,252.78 L261.41,253.41 L261.90,254.04 L262.38,254.68 L262.86,255.32 L263.33,255.96 L263.79,256.61 L264.26,257.26 L264.71,257.92 L265.16,258.58 L265.61,259.24 L266.05,259.91 L266.48,260.58 L266.91,261.25 L267.34,261.93 L267.76,262.61 L268.17,263.29 L268.58,263.97 L268.99,264.66 L269.39,265.35 L269.78,266.05 L270.18,266.75 L270.56,267.44 L270.94,268.15 L271.32,268.85 L271.69,269.56 L272.06,270.27 L272.42,270.98 L272.78,271.69 L273.14,272.41 L273.49,273.13 L273.83,273.85 L274.17,274.57 L274.51,275.29 L274.84,276.02 L275.17,276.75 L275.50,277.48 L275.82,278.21 L276.13,278.94 L276.45,279.68 L276.75,280.41 L277.06,281.15 L277.36,281.89 L277.65,282.64 L277.95,283.38 L278.23,284.12 L278.52,284.87 L278.80,285.62 L279.08,286.37 L279.35,287.12 L279.62,287.87 L279.89,288.62 L280.15,289.38 L280.41,290.13 L280.66,290.89 L280.91,291.65 L281.16,292.41 L281.41,293.17 L281.65,293.93 L281.89,294.69 L282.12,295.46 L282.35,296.22 L282.58,296.99 L282.81,297.75 L283.03,298.52 L283.25,299.29 L283.46,300.06 L283.67,300.83 L283.88,301.60 L284.09,302.37 L284.29,303.14 L284.49,303.92 L284.69,304.69 L284.88,305.47 L285.08,306.24 L285.26,307.02 L285.45,307.80 L285.63,308.57 L285.81,309.35 L285.99,310.13 L286.17,310.91 L286.34,311.69 L286.51,312.47 L286.68,313.25 L286.84,314.03 L287.00,314.82 L287.16,315.60 L287.32,316.38 L287.47,317.17 L287.62,317.95 L287.77,318.73 L287.92,319.52 L288.07,320.31 L288.21,321.09 L288.35,321.88 L288.49,322.66 L288.62,323.45 L288.76,324.24 L288.89,325.03 L289.02,325.82 L289.15,326.60 L289.27,327.39 L289.39,328.18 L289.52,328.97 L289.64,329.76 L289.75,330.55 L289.87,331.34 L289.98,332.13 L290.09,332.92 L290.20,333.72 L290.31,334.51 L290.42,335.30 L290.52,336.09 L290.62,336.88 L290.72,337.68 L290.82,338.47 L290.92,339.26 L291.02,340.05 L291.11,340.85 L291.20,341.64 L291.30,342.43 L291.38,343.23 L291.47,344.02 L291.56,344.82 L291.64,345.61 L291.73,346.41 L291.81,347.20 L291.89,347.99 L291.97,348.79 L292.05,349.58 L292.12,350.38 L292.20,351.18 L292.27,351.97 L292.35,352.77 L292.42,353.56 L292.49,354.36 L292.56,355.15 L292.62,355.95 L292.69,356.75 L292.75,357.54 L292.82,358.34 L292.88,359.13 L292.94,359.93 L293.00,360.73 L293.06,361.52 L293.12,362.32 L293.18,363.12 L293.24,363.91 L293.29,364.71 L293.35,365.51 L293.40,366.31 L293.45,367.10 L293.50,367.90 L293.55,368.70 L293.60,369.49 L293.65,370.29 L293.70,371.09 L293.75,371.89 L293.79,372.68 L293.84,373.48 L293.88,374.28 L293.93,375.08 L293.97,375.88 L294.01,376.67 L294.05,377.47 L294.09,378.27 L294.13,379.07 L294.17,379.86 L294.21,380.66 L294.25,381.46 L294.29,382.26 L294.32,383.06 L294.36,383.85 L294.39,384.65 L294.43,385.45 L294.46,386.25 L294.49,387.05 L294.53,387.85 L294.56,388.64 L294.59,389.44 L294.62,390.24 L294.65,391.04 L294.68,391.84 L294.71,392.63 L294.74,393.43 L294.77,394.23 L294.79,395.03 L294.82,395.83 L294.85,396.63 L294.87,397.43 L294.90,398.22 L294.92,399.02 L294.95,399.82 L294.97,400.62 L294.99,401.42 L295.02,402.22 L295.04,403.01 L295.06,403.81 L295.08,404.61 L295.10,405.41 L295.13,406.21 L295.15,407.01 L295.17,407.81 L295.19,408.60 L295.20,409.40 L295.21,410.20 L295.23,411.00 L295.24,411.80" stroke="#0000ff" stroke-width="1.7"/>
<path d="M88.29,408.80 L88.64,408.08 L88.99,407.36 L89.34,406.64 L89.69,405.93 L90.04,405.21 L90.39,404.49 L90.74,403.78 L91.10,403.06 L91.45,402.34 L91.80,401.63 L92.16,400.91 L92.51,400.20 L92.87,399.48 L93.23,398.77 L93.59,398.06 L93.95,397.34 L94.31,396.63 L94.67,395.92 L95.03,395.21 L95.39,394.50 L95.75,393.78 L96.12,393.07 L96.48,392.36 L96.85,391.65 L97.22,390.94 L97.58,390.24 L97.95,389.53 L98.32,388.82 L98.69,388.11 L99.06,387.41 L99.43,386.70 L99.81,385.99 L100.18,385.29 L100.55,384.58 L100.93,383.88 L101.31,383.17 L101.68,382.47 L102.06,381.77 L102.44,381.06 L102.82,380.36 L103.20,379.66 L103.58,378.96 L103.97,378.26 L104.35,377.56 L104.74,376.86 L105.12,376.16 L105.51,375.46 L105.90,374.76 L106.28,374.07 L106.67,373.37 L107.06,372.67 L107.46,371.98 L107.85,371.28 L108.24,370.59 L108.64,369.89 L109.03,369.20 L109.43,368.51 L109.83,367.81 L110.23,367.12 L110.63,366.43 L111.03,365.74 L111.43,365.05 L111.84,364.36 L112.24,363.68 L112.65,362.99 L113.05,362.30 L113.46,361.61 L113.87,360.93 L114.28,360.24 L114.69,359.56 L115.10,358.88 L115.52,358.19 L115.93,357.51 L116.35,356.83 L116.77,356.15 L117.19,355.47 L117.61,354.79 L118.03,354.11 L118.45,353.43 L118.87,352.76 L119.30,352.08 L119.72,351.41 L120.15,350.73 L120.58,350.06 L121.01,349.39 L121.44,348.71 L121.87,348.04 L122.31,347.37 L122.74,346.70 L123.18,346.03 L123.62,345.37 L124.06,344.70 L124.50,344.03 L124.94,343.37 L125.38,342.71 L125.83,342.04 L126.27,341.38 L126.72,340.72 L127.17,340.06 L127.62,339.40 L128.07,338.74 L128.53,338.09 L128.98,337.43 L129.44,336.77 L129.90,336.12 L130.36,335.47 L130.82,334.82 L131.28,334.17 L131.75,333.52 L132.21,332.87 L132.68,332.22 L133.15,331.58 L133.62,330.93 L134.10,330.29 L134.57,329.65 L135.05,329.01 L135.52,328.37 L136.00,327.73 L136.49,327.09 L136.97,326.45 L137.45,325.82 L137.94,325.19 L138.43,324.56 L138.92,323.93 L139.41,323.30 L139.90,322.67 L140.40,322.04 L140.90,321.42 L141.40,320.80 L141.90,320.18 L142.40,319.56 L142.91,318.94 L143.42,318.32 L143.93,317.71 L144.44,317.09 L144.95,316.48 L145.47,315.87 L145.98,315.27 L146.50,314.66 L147.03,314.05 L147.55,313.45 L148.08,312.85 L148.60,312.25 L149.14,311.66 L149.67,311.06 L150.20,310.47 L150.74,309.88 L151.28,309.29 L151.82,308.70 L152.37,308.12 L152.91,307.54 L153.46,306.96 L154.01,306.38 L154.57,305.81 L155.12,305.23 L155.68,304.66 L156.24,304.09 L156.81,303.53 L157.37,302.97 L157.94,302.41 L158.51,301.85 L159.09,301.29 L159.66,300.74 L160.24,300.19 L160.83,299.65 L161.41,299.10 L162.00,298.56 L162.59,298.02 L163.18,297.49 L163.78,296.96 L164.38,296.43 L164.98,295.90 L165.58,295.38 L166.19,294.86 L166.80,294.35 L167.41,293.84 L168.03,293.33 L168.65,292.83 L169.27,292.33 L169.90,291.83 L170.53,291.34 L171.16,290.85 L171.79,290.37 L172.43,289.89 L173.07,289.41 L173.72,288.94 L174.37,288.48 L175.02,288.01 L175.67,287.56 L176.33,287.10 L176.99,286.66 L177.65,286.21 L178.32,285.78 L178.99,285.34 L179.67,284.92 L180.35,284.50 L181.03,284.08 L181.71,283.67 L182.40,283.26 L183.09,282.87 L183.79,282.47 L184.49,282.09 L185.19,281.71 L185.90,281.33 L186.61,280.97 L187.32,280.61 L188.03,280.25 L188.75,279.91 L189.48,279.57 L190.20,279.24 L190.93,278.92 L191.67,278.60 L192.40,278.29 L193.14,277.99 L193.89,277.70 L194.63,277.42 L195.38,277.14 L196.13,276.87 L196.89,276.62 L197.65,276.37 L198.41,276.13 L199.18,275.90 L199.94,275.68 L200.71,275.47 L201.49,275.27 L202.26,275.08 L203.04,274.90 L203.82,274.73 L204.60,274.57 L205.39,274.42 L206.17,274.29 L206.96,274.16 L207.75,274.04 L208.54,273.94 L209.34,273.85 L210.13,273.77 L210.93,273.70 L211.72,273.64 L212.52,273.60 L213.32,273.57 L214.12,273.55 L214.91,273.54 L215.71,273.54 L216.51,273.56 L217.31,273.59 L218.11,273.63 L218.90,273.68 L219.70,273.75 L220.49,273.83 L221.29,273.92 L222.08,274.03 L222.87,274.15 L223.66,274.28 L224.44,274.42 L225.22,274.57 L226.00,274.74 L226.78,274.92 L227.56,275.12 L228.33,275.32 L229.10,275.54 L229.86,275.77 L230.62,276.01 L231.38,276.26 L232.13,276.52 L232.88,276.80 L233.63,277.09 L234.37,277.38 L235.11,277.69 L235.84,278.01 L236.56,278.35 L237.28,278.69 L238.00,279.04 L238.71,279.40 L239.42,279.77 L240.12,280.16 L240.82,280.55 L241.51,280.95 L242.19,281.36 L242.87,281.78 L243.54,282.21 L244.21,282.65 L244.87,283.09 L245.53,283.55 L246.18,284.01 L246.82,284.48 L247.46,284.96 L248.10,285.45 L248.72,285.94 L249.34,286.44 L249.96,286.95 L250.57,287.47 L251.17,287.99 L251.77,288.52 L252.36,289.06 L252.95,289.60 L253.53,290.15 L254.10,290.70 L254.67,291.26 L255.23,291.83 L255.79,292.40 L256.34,292.98 L256.88,293.56 L257.42,294.15 L257.96,294.75 L258.48,295.35 L259.01,295.95 L259.52,296.56 L260.03,297.17 L260.54,297.79 L261.04,298.41 L261.53,299.04 L262.02,299.67 L262.51,300.31 L262.98,300.95 L263.46,301.59 L263.92,302.24 L264.39,302.89 L264.84,303.54 L265.30,304.20 L265.74,304.86 L266.18,305.53 L266.62,306.20 L267.05,306.87 L267.48,307.54 L267.90,308.22 L268.32,308.90 L268.73,309.59 L269.13,310.27 L269.54,310.96 L269.93,311.66 L270.32,312.35 L270.71,313.05 L271.10,313.75 L271.47,314.45 L271.85,315.16 L272.22,315.87 L272.58,316.58 L272.94,317.29 L273.30,318.01 L273.65,318.72 L274.00,319.44 L274.34,320.16 L274.68,320.89 L275.01,321.61 L275.34,322.34 L275.67,323.07 L275.99,323.80 L276.31,324.53 L276.62,325.27 L276.93,326.00 L277.23,326.74 L277.54,327.48 L277.83,328.22 L278.13,328.96 L278.42,329.71 L278.70,330.45 L278.98,331.20 L279.26,331.95 L279.54,332.70 L279.81,333.45 L280.08,334.20 L280.34,334.95 L280.60,335.71 L280.86,336.46 L281.11,337.22 L281.36,337.98 L281.61,338.74 L281.85,339.50 L282.09,340.26 L282.33,341.02 L282.56,341.79 L282.79,342.55 L283.02,343.32 L283.24,344.08 L283.46,344.85 L283.68,345.62 L283.89,346.39 L284.11,347.16 L284.31,347.93 L284.52,348.70 L284.72,349.47 L284.92,350.25 L285.12,351.02 L285.31,351.79 L285.50,352.57 L285.69,353.34 L285.88,354.12 L286.06,354.90 L286.24,355.68 L286.42,356.45 L286.59,357.23 L286.76,358.01 L286.93,358.79 L287.10,359.57 L287.26,360.36 L287.43,361.14 L287.58,361.92 L287.74,362.70 L287.90,363.49 L288.05,364.27 L288.20,365.05 L288.35,365.84 L288.49,366.62 L288.64,367.41 L288.78,368.20 L288.92,368.98 L289.05,369.77 L289.19,370.56 L289.32,371.34 L289.45,372.13 L289.58,372.92 L289.70,373.71 L289.83,374.50 L289.95,375.28 L290.07,376.07 L290.19,376.86 L290.31,377.65 L290.42,378.44 L290.53,379.23 L290.65,380.02 L290.76,380.82 L290.86,381.61 L290.97,382.40 L291.07,383.19 L291.18,383.98 L291.28,384.77 L291.38,385.57 L291.47,386.36 L291.57,387.15 L291.66,387.94 L291.76,388.74 L291.85,389.53 L291.94,390.32 L292.03,391.12 L292.11,391.91 L292.20,392.70 L292.28,393.50 L292.36,394.29 L292.45,395.09 L292.53,395.88 L292.60,396.68 L292.68,397.47 L292.76,398.26 L292.83,399.06 L292.91,399.85 L292.98,400.65 L293.05,401.45 L293.12,402.24 L293.19,403.04 L293.25,403.83 L293.32,404.63 L293.39,405.42 L293.45,406.22 L293.51,407.01 L293.58,407.81 L293.64,408.61 L293.66,409.41 L293.67,410.20 L293.68,411.00 L293.69,411.80" stroke="#a52a2a" stroke-width="1.7" stroke-dasharray="15 5" stroke-dashoffset="0.7"/>
<path d="M74.96,408.80 L75.29,408.07 L75.62,407.34 L75.96,406.62 L76.29,405.89 L76.62,405.16 L76.95,404.43 L77.29,403.71 L77.62,402.98 L77.96,402.25 L78.29,401.53 L78.63,400.80 L78.96,400.07 L79.30,399.35 L79.64,398.62 L79.98,397.90 L80.32,397.18 L80.66,396.45 L81.00,395.73 L81.34,395.00 L81.68,394.28 L82.02,393.56 L82.37,392.83 L82.71,392.11 L83.05,391.39 L83.40,390.67 L83.74,389.95 L84.09,389.23 L84.44,388.50 L84.78,387.78 L85.13,387.06 L85.48,386.34 L85.83,385.62 L86.18,384.91 L86.53,384.19 L86.88,383.47 L87.23,382.75 L87.59,382.03 L87.94,381.31 L88.29,380.60 L88.65,379.88 L89.01,379.16 L89.36,378.45 L89.72,377.73 L90.08,377.02 L90.43,376.30 L90.79,375.59 L91.15,374.87 L91.51,374.16 L91.88,373.44 L92.24,372.73 L92.60,372.02 L92.97,371.31 L93.33,370.59 L93.69,369.88 L94.06,369.17 L94.43,368.46 L94.80,367.75 L95.16,367.04 L95.53,366.33 L95.90,365.62 L96.27,364.91 L96.64,364.20 L97.02,363.50 L97.39,362.79 L97.76,362.08 L98.14,361.37 L98.51,360.67 L98.89,359.96 L99.27,359.26 L99.65,358.55 L100.03,357.85 L100.41,357.14 L100.79,356.44 L101.17,355.74 L101.55,355.03 L101.93,354.33 L102.32,353.63 L102.70,352.93 L103.09,352.23 L103.48,351.53 L103.86,350.83 L104.25,350.13 L104.64,349.43 L105.03,348.73 L105.42,348.04 L105.82,347.34 L106.21,346.64 L106.61,345.95 L107.00,345.25 L107.40,344.56 L107.79,343.86 L108.19,343.17 L108.59,342.48 L108.99,341.78 L109.39,341.09 L109.80,340.40 L110.20,339.71 L110.60,339.02 L111.01,338.33 L111.42,337.64 L111.82,336.95 L112.23,336.26 L112.64,335.58 L113.05,334.89 L113.46,334.21 L113.88,333.52 L114.29,332.84 L114.71,332.15 L115.12,331.47 L115.54,330.79 L115.96,330.10 L116.38,329.42 L116.80,328.74 L117.22,328.06 L117.64,327.38 L118.07,326.71 L118.49,326.03 L118.92,325.35 L119.35,324.68 L119.78,324.00 L120.21,323.33 L120.64,322.65 L121.07,321.98 L121.50,321.31 L121.94,320.64 L122.38,319.97 L122.81,319.30 L123.25,318.63 L123.69,317.96 L124.13,317.29 L124.58,316.63 L125.02,315.96 L125.47,315.30 L125.91,314.64 L126.36,313.97 L126.81,313.31 L127.26,312.65 L127.72,311.99 L128.17,311.33 L128.63,310.68 L129.08,310.02 L129.54,309.36 L130.00,308.71 L130.46,308.06 L130.93,307.40 L131.39,306.75 L131.86,306.10 L132.32,305.45 L132.79,304.80 L133.26,304.16 L133.73,303.51 L134.21,302.87 L134.68,302.22 L135.16,301.58 L135.64,300.94 L136.12,300.30 L136.60,299.66 L137.08,299.03 L137.57,298.39 L138.06,297.76 L138.55,297.12 L139.04,296.49 L139.53,295.86 L140.02,295.23 L140.52,294.60 L141.02,293.98 L141.52,293.35 L142.02,292.73 L142.52,292.11 L143.03,291.49 L143.53,290.87 L144.04,290.25 L144.55,289.64 L145.06,289.02 L145.58,288.41 L146.10,287.80 L146.62,287.19 L147.14,286.58 L147.66,285.98 L148.18,285.37 L148.71,284.77 L149.24,284.17 L149.77,283.57 L150.31,282.98 L150.84,282.38 L151.38,281.79 L151.92,281.20 L152.46,280.61 L153.01,280.03 L153.55,279.45 L154.10,278.86 L154.65,278.28 L155.21,277.71 L155.77,277.13 L156.32,276.56 L156.89,275.99 L157.45,275.42 L158.02,274.86 L158.58,274.30 L159.16,273.74 L159.73,273.18 L160.31,272.62 L160.89,272.07 L161.47,271.52 L162.05,270.98 L162.64,270.43 L163.23,269.89 L163.82,269.36 L164.42,268.82 L165.02,268.29 L165.62,267.77 L166.22,267.24 L166.83,266.72 L167.44,266.20 L168.05,265.69 L168.67,265.18 L169.29,264.67 L169.91,264.17 L170.53,263.67 L171.16,263.17 L171.79,262.68 L172.43,262.19 L173.06,261.71 L173.70,261.23 L174.35,260.76 L174.99,260.29 L175.64,259.82 L176.30,259.36 L176.96,258.90 L177.62,258.45 L178.28,258.01 L178.95,257.56 L179.62,257.13 L180.29,256.70 L180.97,256.27 L181.65,255.85 L182.33,255.44 L183.02,255.03 L183.71,254.63 L184.41,254.23 L185.11,253.84 L185.81,253.46 L186.51,253.08 L187.22,252.71 L187.93,252.35 L188.65,251.99 L189.37,251.64 L190.09,251.30 L190.82,250.96 L191.55,250.63 L192.28,250.32 L193.02,250.00 L193.76,249.70 L194.50,249.41 L195.25,249.12 L196.00,248.84 L196.75,248.57 L197.51,248.31 L198.27,248.06 L199.03,247.82 L199.80,247.59 L200.57,247.37 L201.34,247.16 L202.11,246.95 L202.89,246.76 L203.67,246.58 L204.45,246.41 L205.23,246.25 L206.02,246.10 L206.81,245.97 L207.60,245.84 L208.39,245.73 L209.18,245.63 L209.98,245.54 L210.77,245.46 L211.57,245.39 L212.37,245.34 L213.17,245.30 L213.97,245.27 L214.77,245.25 L215.57,245.25 L216.37,245.26 L217.17,245.28 L217.97,245.32 L218.76,245.37 L219.56,245.43 L220.36,245.50 L221.15,245.59 L221.95,245.69 L222.74,245.80 L223.53,245.93 L224.32,246.07 L225.10,246.22 L225.88,246.39 L226.66,246.57 L227.44,246.76 L228.21,246.96 L228.98,247.18 L229.75,247.40 L230.51,247.65 L231.27,247.90 L232.03,248.16 L232.78,248.44 L233.52,248.73 L234.26,249.03 L235.00,249.34 L235.73,249.66 L236.46,250.00 L237.18,250.34 L237.90,250.70 L238.61,251.06 L239.32,251.44 L240.02,251.82 L240.71,252.22 L241.40,252.63 L242.09,253.04 L242.76,253.46 L243.44,253.90 L244.10,254.34 L244.76,254.79 L245.42,255.25 L246.07,255.72 L246.71,256.19 L247.35,256.68 L247.98,257.17 L248.60,257.67 L249.22,258.17 L249.84,258.69 L250.44,259.21 L251.04,259.74 L251.64,260.27 L252.23,260.81 L252.81,261.36 L253.39,261.91 L253.96,262.47 L254.53,263.04 L255.09,263.61 L255.64,264.18 L256.19,264.77 L256.73,265.35 L257.27,265.95 L257.80,266.54 L258.33,267.15 L258.85,267.76 L259.36,268.37 L259.87,268.98 L260.37,269.61 L260.87,270.23 L261.36,270.86 L261.85,271.50 L262.33,272.14 L262.81,272.78 L263.28,273.43 L263.75,274.08 L264.21,274.73 L264.66,275.39 L265.11,276.05 L265.56,276.71 L266.00,277.38 L266.43,278.05 L266.86,278.73 L267.29,279.40 L267.71,280.08 L268.13,280.77 L268.54,281.45 L268.94,282.14 L269.34,282.83 L269.74,283.53 L270.13,284.23 L270.52,284.93 L270.90,285.63 L271.28,286.33 L271.65,287.04 L272.02,287.75 L272.39,288.46 L272.75,289.18 L273.10,289.89 L273.46,290.61 L273.80,291.33 L274.15,292.05 L274.49,292.78 L274.82,293.51 L275.15,294.23 L275.48,294.96 L275.80,295.70 L276.12,296.43 L276.43,297.17 L276.74,297.90 L277.05,298.64 L277.35,299.38 L277.65,300.12 L277.95,300.87 L278.24,301.61 L278.53,302.36 L278.81,303.11 L279.09,303.86 L279.37,304.61 L279.64,305.36 L279.91,306.11 L280.17,306.87 L280.44,307.62 L280.69,308.38 L280.95,309.14 L281.20,309.90 L281.45,310.66 L281.69,311.42 L281.94,312.18 L282.17,312.94 L282.41,313.71 L282.64,314.47 L282.87,315.24 L283.10,316.01 L283.32,316.78 L283.54,317.55 L283.75,318.32 L283.97,319.09 L284.18,319.86 L284.38,320.63 L284.59,321.41 L284.79,322.18 L284.99,322.95 L285.18,323.73 L285.37,324.51 L285.56,325.28 L285.75,326.06 L285.93,326.84 L286.12,327.62 L286.29,328.40 L286.47,329.18 L286.64,329.96 L286.82,330.74 L286.98,331.52 L287.15,332.31 L287.31,333.09 L287.47,333.87 L287.63,334.66 L287.79,335.44 L287.94,336.23 L288.09,337.01 L288.24,337.80 L288.39,338.58 L288.53,339.37 L288.67,340.16 L288.81,340.95 L288.95,341.73 L289.09,342.52 L289.22,343.31 L289.35,344.10 L289.48,344.89 L289.61,345.68 L289.73,346.47 L289.85,347.26 L289.97,348.05 L290.09,348.84 L290.21,349.63 L290.32,350.42 L290.44,351.22 L290.55,352.01 L290.66,352.80 L290.77,353.59 L290.87,354.39 L290.98,355.18 L291.08,355.97 L291.18,356.77 L291.28,357.56 L291.38,358.35 L291.47,359.15 L291.57,359.94 L291.66,360.74 L291.75,361.53 L291.84,362.33 L291.93,363.12 L292.01,363.92 L292.10,364.71 L292.18,365.51 L292.26,366.30 L292.34,367.10 L292.42,367.90 L292.50,368.69 L292.58,369.49 L292.65,370.28 L292.72,371.08 L292.80,371.88 L292.87,372.67 L292.94,373.47 L293.01,374.27 L293.07,375.07 L293.14,375.86 L293.21,376.66 L293.27,377.46 L293.33,378.25 L293.39,379.05 L293.46,379.85 L293.51,380.65 L293.57,381.44 L293.63,382.24 L293.69,383.04 L293.74,383.84 L293.80,384.64 L293.85,385.43 L293.90,386.23 L293.95,387.03 L294.00,387.83 L294.05,388.63 L294.10,389.43 L294.15,390.22 L294.20,391.02 L294.24,391.82 L294.29,392.62 L294.33,393.42 L294.38,394.22 L294.42,395.02 L294.46,395.82 L294.50,396.61 L294.54,397.41 L294.58,398.21 L294.62,399.01 L294.66,399.81 L294.70,400.61 L294.74,401.41 L294.77,402.21 L294.81,403.01 L294.84,403.81 L294.88,404.60 L294.91,405.40 L294.94,406.20 L294.98,407.00 L295.01,407.80 L295.04,408.60 L295.05,409.40 L295.07,410.20 L295.08,411.00 L295.09,411.80" stroke="#ff0000" stroke-width="1.7" stroke-dasharray="6.45 4.26" stroke-dashoffset="0.2"/>
</g>
<rect x="61.80" y="24.90" width="372.25" height="383.90" fill="none" stroke="#000" stroke-width="1.65"/>
<line x1="61.80" y1="216.85" x2="434.05" y2="216.85" stroke="#000" stroke-width="1.65"/>
<line x1="88.39" y1="24.90" x2="88.39" y2="29.60" stroke="#000" stroke-width="1.45"/>
<line x1="88.39" y1="212.15" x2="88.39" y2="221.55" stroke="#000" stroke-width="1.45"/>
<line x1="88.39" y1="404.10" x2="88.39" y2="408.80" stroke="#000" stroke-width="1.45"/>
<line x1="114.98" y1="24.90" x2="114.98" y2="29.60" stroke="#000" stroke-width="1.45"/>
<line x1="114.98" y1="212.15" x2="114.98" y2="221.55" stroke="#000" stroke-width="1.45"/>
<line x1="114.98" y1="404.10" x2="114.98" y2="408.80" stroke="#000" stroke-width="1.45"/>
<line x1="141.57" y1="24.90" x2="141.57" y2="34.10" stroke="#000" stroke-width="1.45"/>
<line x1="141.57" y1="207.65" x2="141.57" y2="226.05" stroke="#000" stroke-width="1.45"/>
<line x1="141.57" y1="399.60" x2="141.57" y2="408.80" stroke="#000" stroke-width="1.45"/>
<line x1="168.16" y1="24.90" x2="168.16" y2="29.60" stroke="#000" stroke-width="1.45"/>
<line x1="168.16" y1="212.15" x2="168.16" y2="221.55" stroke="#000" stroke-width="1.45"/>
<line x1="168.16" y1="404.10" x2="168.16" y2="408.80" stroke="#000" stroke-width="1.45"/>
<line x1="194.75" y1="24.90" x2="194.75" y2="29.60" stroke="#000" stroke-width="1.45"/>
<line x1="194.75" y1="212.15" x2="194.75" y2="221.55" stroke="#000" stroke-width="1.45"/>
<line x1="194.75" y1="404.10" x2="194.75" y2="408.80" stroke="#000" stroke-width="1.45"/>
<line x1="221.34" y1="24.90" x2="221.34" y2="29.60" stroke="#000" stroke-width="1.45"/>
<line x1="221.34" y1="212.15" x2="221.34" y2="221.55" stroke="#000" stroke-width="1.45"/>
<line x1="221.34" y1="404.10" x2="221.34" y2="408.80" stroke="#000" stroke-width="1.45"/>
<line x1="247.93" y1="24.90" x2="247.93" y2="34.10" stroke="#000" stroke-width="1.45"/>
<line x1="247.93" y1="207.65" x2="247.93" y2="226.05" stroke="#000" stroke-width="1.45"/>
<line x1="247.93" y1="399.60" x2="247.93" y2="408.80" stroke="#000" stroke-width="1.45"/>
<line x1="274.51" y1="24.90" x2="274.51" y2="29.60" stroke="#000" stroke-width="1.45"/>
<line x1="274.51" y1="212.15" x2="274.51" y2="221.55" stroke="#000" stroke-width="1.45"/>
<line x1="274.51" y1="404.10" x2="274.51" y2="408.80" stroke="#000" stroke-width="1.45"/>
<line x1="301.10" y1="24.90" x2="301.10" y2="29.60" stroke="#000" stroke-width="1.45"/>
<line x1="301.10" y1="212.15" x2="301.10" y2="221.55" stroke="#000" stroke-width="1.45"/>
<line x1="301.10" y1="404.10" x2="301.10" y2="408.80" stroke="#000" stroke-width="1.45"/>
<line x1="327.69" y1="24.90" x2="327.69" y2="29.60" stroke="#000" stroke-width="1.45"/>
<line x1="327.69" y1="212.15" x2="327.69" y2="221.55" stroke="#000" stroke-width="1.45"/>
<line x1="327.69" y1="404.10" x2="327.69" y2="408.80" stroke="#000" stroke-width="1.45"/>
<line x1="354.28" y1="24.90" x2="354.28" y2="34.10" stroke="#000" stroke-width="1.45"/>
<line x1="354.28" y1="207.65" x2="354.28" y2="226.05" stroke="#000" stroke-width="1.45"/>
<line x1="354.28" y1="399.60" x2="354.28" y2="408.80" stroke="#000" stroke-width="1.45"/>
<line x1="380.87" y1="24.90" x2="380.87" y2="29.60" stroke="#000" stroke-width="1.45"/>
<line x1="380.87" y1="212.15" x2="380.87" y2="221.55" stroke="#000" stroke-width="1.45"/>
<line x1="380.87" y1="404.10" x2="380.87" y2="408.80" stroke="#000" stroke-width="1.45"/>
<line x1="407.46" y1="24.90" x2="407.46" y2="29.60" stroke="#000" stroke-width="1.45"/>
<line x1="407.46" y1="212.15" x2="407.46" y2="221.55" stroke="#000" stroke-width="1.45"/>
<line x1="407.46" y1="404.10" x2="407.46" y2="408.80" stroke="#000" stroke-width="1.45"/>
<line x1="61.80" y1="120.88" x2="71.00" y2="120.88" stroke="#000" stroke-width="1.45"/>
<line x1="424.85" y1="120.88" x2="434.05" y2="120.88" stroke="#000" stroke-width="1.45"/>
<line x1="61.80" y1="91.98" x2="66.50" y2="91.98" stroke="#000" stroke-width="1.45"/>
<line x1="429.35" y1="91.98" x2="434.05" y2="91.98" stroke="#000" stroke-width="1.45"/>
<line x1="61.80" y1="75.08" x2="66.50" y2="75.08" stroke="#000" stroke-width="1.45"/>
<line x1="429.35" y1="75.08" x2="434.05" y2="75.08" stroke="#000" stroke-width="1.45"/>
<line x1="61.80" y1="63.09" x2="66.50" y2="63.09" stroke="#000" stroke-width="1.45"/>
<line x1="429.35" y1="63.09" x2="434.05" y2="63.09" stroke="#000" stroke-width="1.45"/>
<line x1="61.80" y1="53.79" x2="66.50" y2="53.79" stroke="#000" stroke-width="1.45"/>
<line x1="429.35" y1="53.79" x2="434.05" y2="53.79" stroke="#000" stroke-width="1.45"/>
<line x1="61.80" y1="46.19" x2="66.50" y2="46.19" stroke="#000" stroke-width="1.45"/>
<line x1="429.35" y1="46.19" x2="434.05" y2="46.19" stroke="#000" stroke-width="1.45"/>
<line x1="61.80" y1="39.77" x2="66.50" y2="39.77" stroke="#000" stroke-width="1.45"/>
<line x1="429.35" y1="39.77" x2="434.05" y2="39.77" stroke="#000" stroke-width="1.45"/>
<line x1="61.80" y1="34.20" x2="66.50" y2="34.20" stroke="#000" stroke-width="1.45"/>
<line x1="429.35" y1="34.20" x2="434.05" y2="34.20" stroke="#000" stroke-width="1.45"/>
<line x1="61.80" y1="29.29" x2="66.50" y2="29.29" stroke="#000" stroke-width="1.45"/>
<line x1="429.35" y1="29.29" x2="434.05" y2="29.29" stroke="#000" stroke-width="1.45"/>
<line x1="61.80" y1="187.96" x2="66.50" y2="187.96" stroke="#000" stroke-width="1.45"/>
<line x1="429.35" y1="187.96" x2="434.05" y2="187.96" stroke="#000" stroke-width="1.45"/>
<line x1="61.80" y1="171.06" x2="66.50" y2="171.06" stroke="#000" stroke-width="1.45"/>
<line x1="429.35" y1="171.06" x2="434.05" y2="171.06" stroke="#000" stroke-width="1.45"/>
<line x1="61.80" y1="159.07" x2="66.50" y2="159.07" stroke="#000" stroke-width="1.45"/>
<line x1="429.35" y1="159.07" x2="434.05" y2="159.07" stroke="#000" stroke-width="1.45"/>
<line x1="61.80" y1="149.77" x2="66.50" y2="149.77" stroke="#000" stroke-width="1.45"/>
<line x1="429.35" y1="149.77" x2="434.05" y2="149.77" stroke="#000" stroke-width="1.45"/>
<line x1="61.80" y1="142.17" x2="66.50" y2="142.17" stroke="#000" stroke-width="1.45"/>
<line x1="429.35" y1="142.17" x2="434.05" y2="142.17" stroke="#000" stroke-width="1.45"/>
<line x1="61.80" y1="135.74" x2="66.50" y2="135.74" stroke="#000" stroke-width="1.45"/>
<line x1="429.35" y1="135.74" x2="434.05" y2="135.74" stroke="#000" stroke-width="1.45"/>
<line x1="61.80" y1="130.18" x2="66.50" y2="130.18" stroke="#000" stroke-width="1.45"/>
<line x1="429.35" y1="130.18" x2="434.05" y2="130.18" stroke="#000" stroke-width="1.45"/>
<line x1="61.80" y1="125.27" x2="66.50" y2="125.27" stroke="#000" stroke-width="1.45"/>
<line x1="429.35" y1="125.27" x2="434.05" y2="125.27" stroke="#000" stroke-width="1.45"/>
<line x1="61.80" y1="312.82" x2="71.00" y2="312.82" stroke="#000" stroke-width="1.45"/>
<line x1="424.85" y1="312.82" x2="434.05" y2="312.82" stroke="#000" stroke-width="1.45"/>
<line x1="61.80" y1="283.93" x2="66.50" y2="283.93" stroke="#000" stroke-width="1.45"/>
<line x1="429.35" y1="283.93" x2="434.05" y2="283.93" stroke="#000" stroke-width="1.45"/>
<line x1="61.80" y1="267.03" x2="66.50" y2="267.03" stroke="#000" stroke-width="1.45"/>
<line x1="429.35" y1="267.03" x2="434.05" y2="267.03" stroke="#000" stroke-width="1.45"/>
<line x1="61.80" y1="255.04" x2="66.50" y2="255.04" stroke="#000" stroke-width="1.45"/>
<line x1="429.35" y1="255.04" x2="434.05" y2="255.04" stroke="#000" stroke-width="1.45"/>
<line x1="61.80" y1="245.74" x2="66.50" y2="245.74" stroke="#000" stroke-width="1.45"/>
<line x1="429.35" y1="245.74" x2="434.05" y2="245.74" stroke="#000" stroke-width="1.45"/>
<line x1="61.80" y1="238.14" x2="66.50" y2="238.14" stroke="#000" stroke-width="1.45"/>
<line x1="429.35" y1="238.14" x2="434.05" y2="238.14" stroke="#000" stroke-width="1.45"/>
<line x1="61.80" y1="231.72" x2="66.50" y2="231.72" stroke="#000" stroke-width="1.45"/>
<line x1="429.35" y1="231.72" x2="434.05" y2="231.72" stroke="#000" stroke-width="1.45"/>
<line x1="61.80" y1="226.15" x2="66.50" y2="226.15" stroke="#000" stroke-width="1.45"/>
<line x1="429.35" y1="226.15" x2="434.05" y2="226.15" stroke="#000" stroke-width="1.45"/>
<line x1="61.80" y1="221.24" x2="66.50" y2="221.24" stroke="#000" stroke-width="1.45"/>
<line x1="429.35" y1="221.24" x2="434.05" y2="221.24" stroke="#000" stroke-width="1.45"/>
<line x1="61.80" y1="379.91" x2="66.50" y2="379.91" stroke="#000" stroke-width="1.45"/>
<line x1="429.35" y1="379.91" x2="434.05" y2="379.91" stroke="#000" stroke-width="1.45"/>
<line x1="61.80" y1="363.01" x2="66.50" y2="363.01" stroke="#000" stroke-width="1.45"/>
<line x1="429.35" y1="363.01" x2="434.05" y2="363.01" stroke="#000" stroke-width="1.45"/>
<line x1="61.80" y1="351.02" x2="66.50" y2="351.02" stroke="#000" stroke-width="1.45"/>
<line x1="429.35" y1="351.02" x2="434.05" y2="351.02" stroke="#000" stroke-width="1.45"/>
<line x1="61.80" y1="341.72" x2="66.50" y2="341.72" stroke="#000" stroke-width="1.45"/>
<line x1="429.35" y1="341.72" x2="434.05" y2="341.72" stroke="#000" stroke-width="1.45"/>
<line x1="61.80" y1="334.12" x2="66.50" y2="334.12" stroke="#000" stroke-width="1.45"/>
<line x1="429.35" y1="334.12" x2="434.05" y2="334.12" stroke="#000" stroke-width="1.45"/>
<line x1="61.80" y1="327.69" x2="66.50" y2="327.69" stroke="#000" stroke-width="1.45"/>
<line x1="429.35" y1="327.69" x2="434.05" y2="327.69" stroke="#000" stroke-width="1.45"/>
<line x1="61.80" y1="322.13" x2="66.50" y2="322.13" stroke="#000" stroke-width="1.45"/>
<line x1="429.35" y1="322.13" x2="434.05" y2="322.13" stroke="#000" stroke-width="1.45"/>
<line x1="61.80" y1="317.22" x2="66.50" y2="317.22" stroke="#000" stroke-width="1.45"/>
<line x1="429.35" y1="317.22" x2="434.05" y2="317.22" stroke="#000" stroke-width="1.45"/>
<text x="52.9" y="30.2" font-family="Liberation Serif, serif" font-size="15.6" font-weight="normal" font-style="normal" text-anchor="end" fill="#000" stroke="#000" stroke-width="0.55">0.1</text>
<text x="26.2" y="126.175" font-family="Liberation Serif, serif" font-size="15.6" font-weight="normal" font-style="normal" text-anchor="start" fill="#000" stroke="#000" stroke-width="0.55" textLength="15.9" lengthAdjust="spacingAndGlyphs">10</text><text x="43.3" y="122.475" font-family="Liberation Sans, serif" font-size="9.4" font-weight="bold" font-style="normal" text-anchor="start" fill="#000" stroke="#000" stroke-width="0.25" textLength="10.5" lengthAdjust="spacingAndGlyphs">−2</text>
<text x="26.2" y="318.125" font-family="Liberation Serif, serif" font-size="15.6" font-weight="normal" font-style="normal" text-anchor="start" fill="#000" stroke="#000" stroke-width="0.55" textLength="15.9" lengthAdjust="spacingAndGlyphs">10</text><text x="43.3" y="314.425" font-family="Liberation Sans, serif" font-size="9.4" font-weight="bold" font-style="normal" text-anchor="start" fill="#000" stroke="#000" stroke-width="0.25" textLength="10.5" lengthAdjust="spacingAndGlyphs">−2</text>
<text x="26.2" y="414.1" font-family="Liberation Serif, serif" font-size="15.6" font-weight="normal" font-style="normal" text-anchor="start" fill="#000" stroke="#000" stroke-width="0.55" textLength="15.9" lengthAdjust="spacingAndGlyphs">10</text><text x="43.3" y="410.40000000000003" font-family="Liberation Sans, serif" font-size="9.4" font-weight="bold" font-style="normal" text-anchor="start" fill="#000" stroke="#000" stroke-width="0.25" textLength="10.5" lengthAdjust="spacingAndGlyphs">−3</text>
<g transform="translate(142.07,426.2) scale(1.15,1)"><text x="0" y="0" font-family="Liberation Sans, serif" font-size="14.2" font-weight="normal" font-style="normal" text-anchor="middle" fill="#000" stroke="#000" stroke-width="0.6">−2</text></g>
<g transform="translate(247.93,426.2) scale(1.15,1)"><text x="0" y="0" font-family="Liberation Sans, serif" font-size="14.2" font-weight="normal" font-style="normal" text-anchor="middle" fill="#000" stroke="#000" stroke-width="0.6">0</text></g>
<g transform="translate(354.28,426.2) scale(1.15,1)"><text x="0" y="0" font-family="Liberation Sans, serif" font-size="14.2" font-weight="normal" font-style="normal" text-anchor="middle" fill="#000" stroke="#000" stroke-width="0.6">2</text></g>
<g transform="translate(241.3,448.0) scale(0.87,1.08)"><text x="0" y="0" font-family="Liberation Serif, serif" font-weight="bold" font-style="italic" font-size="15.3" fill="#0000ff" stroke="#0000ff" stroke-width="0.3">δ</text></g>
<text x="249.3" y="451.8" font-family="Liberation Sans, sans-serif" font-weight="bold" font-size="9.4" fill="#0000ff">1</text>
<g transform="translate(14.0,121.17) rotate(-90)"><text x="0" y="0" text-anchor="middle" font-family="Liberation Serif, serif" font-weight="bold" font-size="16.0" fill="#0000ff" stroke="#0000ff" stroke-width="0.3">p(<tspan font-style="italic">δ</tspan><tspan font-family="Liberation Sans, sans-serif" stroke="none" font-size="9.2" dy="3.4" dx="0.4">1</tspan><tspan dy="-3.4" dx="0.6">)</tspan></text></g>
<g transform="translate(14.0,313.12) rotate(-90)"><text x="0" y="0" text-anchor="middle" font-family="Liberation Serif, serif" font-weight="bold" font-size="16.0" fill="#0000ff" stroke="#0000ff" stroke-width="0.3">p(<tspan font-style="italic">δ</tspan><tspan font-family="Liberation Sans, sans-serif" stroke="none" font-size="9.2" dy="3.4" dx="0.4">1</tspan><tspan dy="-3.4" dx="0.6">)</tspan></text></g>
</svg>
</body></html>
